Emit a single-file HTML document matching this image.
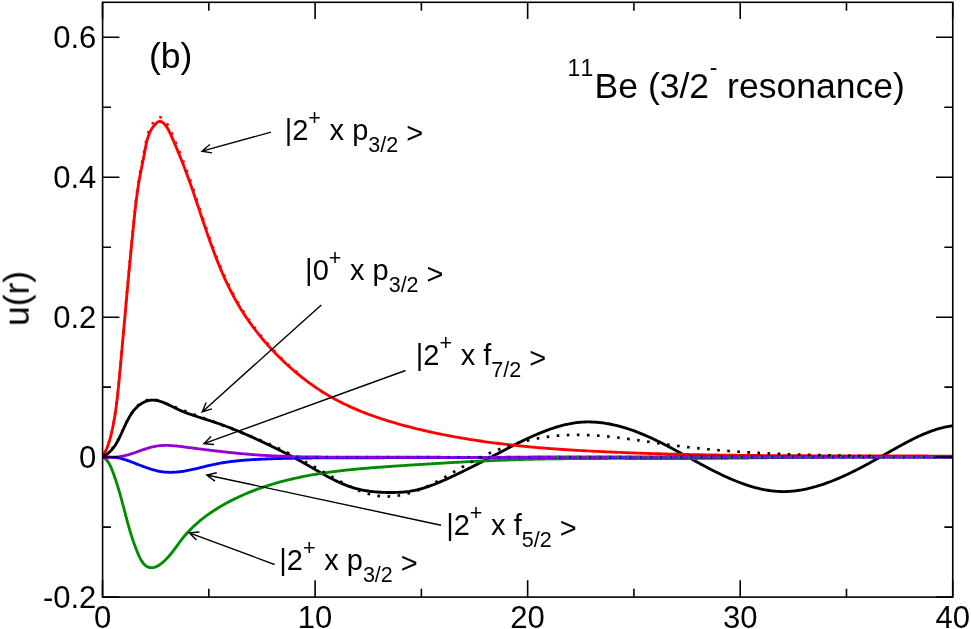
<!DOCTYPE html>
<html><head><meta charset="utf-8"><style>
html,body{margin:0;padding:0;background:#fff;}
svg{display:block;font-family:"Liberation Sans",sans-serif;}
</style></head><body>
<svg width="971" height="629" viewBox="0 0 971 629">
<rect width="971" height="629" fill="#fff"/>
<defs><clipPath id="c"><rect x="102.6" y="2.3" width="850.15" height="594.8000000000001"/></clipPath></defs>
<g clip-path="url(#c)" fill="none" stroke-width="2.85" stroke-linejoin="round">
<path d="M103,457.2 H120" stroke="#000" stroke-width="2"/>
<path d="M102.70,457.00 L103.95,456.28 L105.14,455.53 L106.28,454.74 L107.36,453.91 L108.40,453.06 L109.39,452.17 L110.34,451.25 L111.24,450.31 L112.10,449.34 L112.93,448.34 L113.72,447.32 L114.48,446.27 L115.22,445.20 L115.92,444.11 L116.60,442.99 L117.25,441.86 L117.89,440.71 L118.51,439.54 L119.11,438.36 L119.70,437.17 L120.28,435.95 L120.85,434.73 L121.42,433.50 L121.98,432.25 L122.55,431.00 L123.11,429.74 L123.68,428.47 L124.25,427.20 L124.84,425.92 L125.44,424.65 L126.04,423.37 L126.67,422.09 L127.31,420.82 L127.97,419.56 L128.65,418.31 L129.35,417.07 L130.07,415.85 L130.82,414.66 L131.59,413.49 L132.40,412.35 L133.23,411.23 L134.09,410.16 L134.98,409.12 L135.91,408.12 L136.87,407.16 L137.86,406.25 L138.88,405.39 L139.93,404.58 L141.01,403.83 L142.11,403.14 L143.24,402.51 L144.39,401.94 L145.55,401.45 L146.73,401.03 L147.92,400.68 L149.12,400.41 L150.32,400.22 L151.53,400.11 L152.75,400.08 L153.96,400.13 L155.18,400.25 L156.40,400.44 L157.62,400.69 L158.85,400.99 L160.08,401.34 L161.31,401.74 L162.54,402.18 L163.78,402.66 L165.02,403.17 L166.26,403.71 L167.50,404.27 L168.75,404.85 L169.99,405.44 L171.24,406.05 L172.49,406.66 L173.75,407.27 L175.00,407.89 L176.26,408.50 L177.52,409.10 L178.78,409.69 L180.04,410.27 L181.30,410.82 L182.56,411.36 L183.83,411.88 L185.10,412.39 L186.37,412.88 L187.64,413.36 L188.91,413.82 L190.18,414.28 L191.45,414.72 L192.72,415.16 L194.00,415.59 L195.27,416.01 L196.55,416.42 L197.83,416.83 L199.10,417.24 L200.38,417.65 L201.66,418.05 L202.94,418.46 L204.22,418.86 L205.49,419.27 L206.77,419.68 L208.05,420.09 L209.33,420.50 L210.61,420.92 L211.89,421.34 L213.17,421.76 L214.45,422.19 L215.73,422.62 L217.00,423.06 L218.28,423.50 L219.56,423.94 L220.84,424.39 L222.11,424.84 L223.39,425.31 L224.66,425.77 L225.94,426.24 L227.21,426.72 L228.48,427.21 L229.75,427.70 L231.02,428.19 L232.29,428.69 L233.56,429.20 L234.82,429.71 L236.09,430.22 L237.35,430.74 L238.61,431.27 L239.87,431.79 L241.13,432.32 L242.39,432.86 L243.65,433.40 L244.90,433.94 L246.15,434.49 L247.40,435.04 L248.65,435.59 L249.90,436.14 L251.14,436.70 L252.38,437.26 L253.62,437.82 L254.86,438.39 L256.09,438.95 L257.32,439.52 L258.55,440.09 L259.78,440.66 L261.00,441.23 L262.23,441.81 L263.44,442.38 L264.66,442.96 L265.87,443.53 L267.08,444.11 L268.29,444.68 L269.50,445.26 L270.70,445.84 L271.90,446.42 L273.09,447.00 L274.29,447.58 L275.48,448.16 L276.67,448.75 L277.86,449.33 L279.04,449.92 L280.23,450.51 L281.41,451.10 L282.59,451.69 L283.77,452.29 L284.95,452.89 L286.13,453.49 L287.30,454.09 L288.48,454.70 L289.65,455.31 L290.82,455.92 L292.00,456.54 L293.17,457.16 L294.34,457.78 L295.51,458.41 L296.68,459.04 L297.85,459.68 L299.02,460.32 L300.19,460.96 L301.36,461.61 L302.53,462.26 L303.71,462.92 L304.88,463.58 L306.05,464.25 L307.22,464.92 L308.40,465.59 L309.57,466.27 L310.75,466.95 L311.92,467.64 L313.10,468.32 L314.28,469.00 L315.46,469.69 L316.64,470.37 L317.83,471.06 L319.01,471.74 L320.20,472.42 L321.39,473.10 L322.58,473.77 L323.78,474.44 L324.97,475.10 L326.17,475.76 L327.37,476.42 L328.58,477.07 L329.78,477.71 L330.99,478.34 L332.21,478.97 L333.42,479.58 L334.64,480.19 L335.86,480.79 L337.09,481.38 L338.32,481.95 L339.55,482.52 L340.78,483.07 L342.02,483.61 L343.27,484.13 L344.52,484.65 L345.77,485.14 L347.02,485.63 L348.29,486.09 L349.55,486.54 L350.82,486.98 L352.10,487.39 L353.37,487.79 L354.66,488.17 L355.95,488.53 L357.24,488.87 L358.54,489.20 L359.84,489.50 L361.15,489.79 L362.46,490.06 L363.78,490.31 L365.09,490.55 L366.41,490.77 L367.74,490.98 L369.07,491.17 L370.40,491.35 L371.73,491.51 L373.07,491.66 L374.40,491.80 L375.74,491.92 L377.08,492.03 L378.43,492.13 L379.77,492.21 L381.12,492.29 L382.46,492.35 L383.81,492.40 L385.16,492.45 L386.51,492.48 L387.85,492.50 L389.20,492.52 L390.55,492.52 L391.90,492.52 L393.25,492.51 L394.59,492.49 L395.94,492.45 L397.28,492.41 L398.62,492.36 L399.96,492.29 L401.30,492.21 L402.64,492.11 L403.98,491.99 L405.31,491.86 L406.64,491.71 L407.97,491.54 L409.29,491.36 L410.61,491.15 L411.93,490.92 L413.25,490.67 L414.56,490.40 L415.87,490.11 L417.17,489.81 L418.48,489.49 L419.78,489.15 L421.07,488.79 L422.37,488.42 L423.66,488.04 L424.95,487.64 L426.23,487.22 L427.52,486.79 L428.80,486.35 L430.08,485.90 L431.35,485.44 L432.62,484.96 L433.89,484.47 L435.16,483.98 L436.42,483.47 L437.69,482.95 L438.95,482.43 L440.20,481.90 L441.46,481.36 L442.71,480.81 L443.96,480.26 L445.21,479.71 L446.45,479.14 L447.69,478.58 L448.94,478.01 L450.17,477.43 L451.41,476.86 L452.64,476.28 L453.88,475.70 L455.11,475.12 L456.33,474.53 L457.56,473.95 L458.78,473.36 L460.00,472.78 L461.22,472.19 L462.44,471.60 L463.66,471.01 L464.87,470.41 L466.08,469.82 L467.29,469.23 L468.50,468.63 L469.71,468.03 L470.91,467.43 L472.12,466.83 L473.32,466.23 L474.52,465.63 L475.72,465.03 L476.91,464.42 L478.11,463.82 L479.30,463.21 L480.49,462.60 L481.68,461.99 L482.87,461.39 L484.06,460.77 L485.25,460.16 L486.43,459.55 L487.62,458.94 L488.80,458.32 L489.98,457.70 L491.16,457.09 L492.34,456.47 L493.52,455.85 L494.69,455.23 L495.87,454.61 L497.04,453.99 L498.22,453.37 L499.39,452.75 L500.57,452.13 L501.75,451.51 L502.92,450.89 L504.10,450.28 L505.27,449.66 L506.45,449.04 L507.63,448.43 L508.81,447.81 L509.99,447.20 L511.17,446.59 L512.36,445.98 L513.54,445.37 L514.73,444.77 L515.92,444.17 L517.11,443.57 L518.31,442.97 L519.51,442.38 L520.71,441.79 L521.91,441.20 L523.12,440.61 L524.33,440.03 L525.54,439.45 L526.76,438.88 L527.98,438.31 L529.21,437.74 L530.43,437.18 L531.67,436.62 L532.91,436.07 L534.15,435.52 L535.40,434.98 L536.65,434.44 L537.91,433.91 L539.17,433.39 L540.44,432.86 L541.72,432.35 L543.00,431.84 L544.28,431.34 L545.57,430.84 L546.87,430.36 L548.17,429.88 L549.47,429.41 L550.78,428.95 L552.09,428.50 L553.41,428.07 L554.72,427.64 L556.05,427.22 L557.37,426.82 L558.70,426.42 L560.03,426.05 L561.37,425.68 L562.70,425.33 L564.04,424.99 L565.38,424.67 L566.72,424.36 L568.07,424.07 L569.41,423.80 L570.76,423.54 L572.11,423.30 L573.46,423.08 L574.81,422.88 L576.16,422.69 L577.51,422.53 L578.86,422.38 L580.21,422.26 L581.56,422.15 L582.91,422.07 L584.25,422.01 L585.60,421.96 L586.95,421.93 L588.29,421.92 L589.64,421.93 L590.98,421.96 L592.32,422.01 L593.66,422.07 L594.99,422.15 L596.33,422.24 L597.66,422.35 L598.98,422.48 L600.31,422.62 L601.63,422.78 L602.95,422.95 L604.26,423.13 L605.57,423.33 L606.88,423.54 L608.18,423.76 L609.48,424.00 L610.78,424.25 L612.07,424.51 L613.36,424.79 L614.65,425.07 L615.93,425.37 L617.21,425.68 L618.49,426.00 L619.76,426.34 L621.04,426.68 L622.30,427.04 L623.57,427.41 L624.83,427.78 L626.09,428.17 L627.35,428.57 L628.60,428.98 L629.85,429.40 L631.10,429.83 L632.35,430.26 L633.59,430.71 L634.84,431.16 L636.08,431.63 L637.31,432.10 L638.55,432.58 L639.78,433.07 L641.01,433.57 L642.24,434.08 L643.47,434.59 L644.70,435.11 L645.92,435.64 L647.14,436.18 L648.36,436.72 L649.58,437.27 L650.80,437.82 L652.02,438.38 L653.23,438.95 L654.44,439.53 L655.66,440.10 L656.87,440.69 L658.08,441.28 L659.29,441.88 L660.49,442.48 L661.70,443.08 L662.91,443.69 L664.11,444.30 L665.31,444.92 L666.52,445.54 L667.72,446.17 L668.92,446.80 L670.12,447.43 L671.33,448.07 L672.53,448.71 L673.73,449.35 L674.93,449.99 L676.13,450.64 L677.33,451.29 L678.53,451.94 L679.73,452.59 L680.93,453.25 L682.13,453.90 L683.33,454.56 L684.53,455.21 L685.73,455.87 L686.93,456.53 L688.13,457.19 L689.33,457.85 L690.53,458.51 L691.74,459.17 L692.94,459.83 L694.14,460.49 L695.35,461.14 L696.55,461.80 L697.76,462.46 L698.97,463.11 L700.18,463.76 L701.38,464.41 L702.60,465.06 L703.81,465.71 L705.02,466.35 L706.24,467.00 L707.45,467.63 L708.67,468.27 L709.89,468.90 L711.11,469.53 L712.33,470.16 L713.55,470.78 L714.78,471.40 L716.01,472.01 L717.23,472.62 L718.46,473.23 L719.70,473.83 L720.93,474.42 L722.17,475.01 L723.40,475.59 L724.64,476.17 L725.88,476.74 L727.13,477.31 L728.37,477.86 L729.62,478.41 L730.86,478.96 L732.11,479.49 L733.36,480.02 L734.61,480.54 L735.87,481.05 L737.12,481.55 L738.38,482.04 L739.64,482.52 L740.90,483.00 L742.16,483.46 L743.43,483.92 L744.69,484.36 L745.96,484.79 L747.23,485.21 L748.50,485.63 L749.77,486.03 L751.05,486.41 L752.32,486.79 L753.60,487.15 L754.88,487.51 L756.16,487.84 L757.44,488.17 L758.72,488.48 L760.01,488.78 L761.29,489.07 L762.58,489.34 L763.87,489.60 L765.16,489.84 L766.46,490.07 L767.75,490.28 L769.05,490.48 L770.35,490.66 L771.64,490.82 L772.95,490.97 L774.25,491.11 L775.55,491.22 L776.86,491.32 L778.17,491.41 L779.47,491.47 L780.79,491.52 L782.10,491.55 L783.41,491.56 L784.73,491.55 L786.04,491.53 L787.36,491.48 L788.68,491.42 L790.00,491.34 L791.32,491.24 L792.65,491.12 L793.97,490.99 L795.29,490.84 L796.62,490.67 L797.94,490.48 L799.27,490.28 L800.59,490.07 L801.92,489.84 L803.24,489.59 L804.57,489.33 L805.89,489.06 L807.22,488.77 L808.54,488.46 L809.86,488.15 L811.18,487.82 L812.50,487.47 L813.82,487.12 L815.14,486.75 L816.46,486.37 L817.77,485.98 L819.08,485.57 L820.39,485.16 L821.70,484.73 L823.01,484.30 L824.31,483.85 L825.61,483.40 L826.91,482.93 L828.20,482.46 L829.50,481.97 L830.79,481.48 L832.07,480.98 L833.36,480.47 L834.63,479.96 L835.91,479.43 L837.18,478.90 L838.45,478.36 L839.71,477.82 L840.97,477.27 L842.23,476.71 L843.48,476.15 L844.73,475.58 L845.97,475.01 L847.20,474.43 L848.44,473.85 L849.66,473.26 L850.89,472.67 L852.11,472.08 L853.32,471.48 L854.53,470.88 L855.74,470.27 L856.94,469.66 L858.15,469.05 L859.34,468.43 L860.54,467.81 L861.73,467.18 L862.92,466.56 L864.10,465.93 L865.28,465.30 L866.46,464.66 L867.64,464.03 L868.82,463.39 L869.99,462.75 L871.16,462.10 L872.33,461.46 L873.50,460.81 L874.67,460.16 L875.84,459.51 L877.00,458.86 L878.16,458.21 L879.33,457.56 L880.49,456.90 L881.65,456.25 L882.81,455.60 L883.97,454.94 L885.13,454.28 L886.29,453.63 L887.45,452.97 L888.62,452.32 L889.78,451.66 L890.94,451.01 L892.10,450.35 L893.27,449.70 L894.43,449.05 L895.60,448.39 L896.77,447.74 L897.93,447.10 L899.10,446.45 L900.28,445.80 L901.45,445.16 L902.63,444.51 L903.81,443.88 L904.99,443.24 L906.17,442.61 L907.35,441.98 L908.54,441.35 L909.73,440.73 L910.93,440.12 L912.13,439.51 L913.33,438.91 L914.53,438.32 L915.74,437.73 L916.95,437.15 L918.17,436.58 L919.39,436.01 L920.61,435.46 L921.84,434.91 L923.07,434.37 L924.31,433.85 L925.55,433.33 L926.80,432.83 L928.05,432.33 L929.31,431.85 L930.57,431.38 L931.84,430.92 L933.11,430.48 L934.39,430.05 L935.68,429.64 L936.97,429.23 L938.27,428.85 L939.57,428.48 L940.89,428.12 L942.20,427.78 L943.53,427.46 L944.86,427.15 L946.20,426.86 L947.54,426.59 L948.90,426.34 L950.26,426.11 L951.62,425.90 L953.00,425.70" stroke="#000"/>
<path d="M102.70,457.01 L103.64,455.25 L104.52,453.48 L105.34,451.72 L106.12,449.95 L106.85,448.18 L107.54,446.40 L108.18,444.63 L108.79,442.85 L109.36,441.07 L109.89,439.28 L110.39,437.50 L110.87,435.71 L111.31,433.92 L111.73,432.12 L112.13,430.33 L112.52,428.53 L112.88,426.73 L113.23,424.93 L113.57,423.12 L113.90,421.31 L114.22,419.50 L114.52,417.69 L114.82,415.88 L115.11,414.06 L115.38,412.24 L115.65,410.42 L115.91,408.60 L116.16,406.78 L116.41,404.95 L116.64,403.13 L116.87,401.30 L117.09,399.46 L117.31,397.63 L117.52,395.80 L117.73,393.96 L117.93,392.12 L118.12,390.28 L118.31,388.44 L118.50,386.60 L118.69,384.75 L118.87,382.91 L119.04,381.06 L119.22,379.21 L119.39,377.36 L119.57,375.51 L119.74,373.66 L119.91,371.80 L120.08,369.95 L120.25,368.09 L120.42,366.23 L120.59,364.38 L120.76,362.52 L120.93,360.66 L121.10,358.79 L121.27,356.93 L121.44,355.07 L121.61,353.20 L121.78,351.33 L121.95,349.47 L122.12,347.60 L122.28,345.73 L122.45,343.86 L122.62,341.99 L122.79,340.12 L122.96,338.25 L123.13,336.38 L123.30,334.51 L123.46,332.63 L123.63,330.76 L123.80,328.88 L123.97,327.01 L124.14,325.13 L124.31,323.26 L124.48,321.38 L124.64,319.51 L124.81,317.63 L124.98,315.75 L125.15,313.88 L125.32,312.00 L125.49,310.12 L125.66,308.24 L125.83,306.37 L126.00,304.49 L126.17,302.61 L126.34,300.73 L126.51,298.86 L126.68,296.98 L126.85,295.10 L127.02,293.22 L127.20,291.35 L127.37,289.47 L127.54,287.59 L127.71,285.71 L127.89,283.84 L128.06,281.96 L128.23,280.09 L128.41,278.21 L128.58,276.34 L128.75,274.46 L128.93,272.59 L129.11,270.72 L129.28,268.84 L129.46,266.97 L129.63,265.10 L129.81,263.23 L129.99,261.36 L130.17,259.49 L130.34,257.62 L130.52,255.76 L130.70,253.89 L130.88,252.02 L131.06,250.16 L131.24,248.29 L131.43,246.43 L131.61,244.57 L131.79,242.71 L131.97,240.85 L132.16,238.99 L132.34,237.13 L132.53,235.28 L132.71,233.42 L132.90,231.57 L133.09,229.71 L133.27,227.86 L133.46,226.01 L133.65,224.17 L133.84,222.32 L134.03,220.47 L134.22,218.63 L134.42,216.79 L134.61,214.94 L134.81,213.10 L135.01,211.26 L135.21,209.42 L135.42,207.59 L135.63,205.75 L135.85,203.91 L136.07,202.07 L136.29,200.24 L136.53,198.40 L136.76,196.56 L137.01,194.73 L137.26,192.89 L137.52,191.05 L137.79,189.21 L138.06,187.37 L138.35,185.53 L138.64,183.69 L138.94,181.85 L139.26,180.01 L139.58,178.17 L139.92,176.32 L140.26,174.48 L140.61,172.63 L140.97,170.78 L141.33,168.93 L141.70,167.08 L142.07,165.22 L142.44,163.36 L142.81,161.50 L143.18,159.64 L143.55,157.78 L143.92,155.91 L144.28,154.04 L144.63,152.17 L144.98,150.29 L145.33,148.42 L145.69,146.55 L146.07,144.69 L146.47,142.84 L146.91,141.01 L147.39,139.20 L147.93,137.42 L148.52,135.66 L149.18,133.94 L149.92,132.25 L150.74,130.61 L151.66,129.01 L152.68,127.46 L153.81,125.96 L155.06,124.52 L156.44,123.15 L157.92,121.98 L159.47,121.34 L161.01,121.50 L162.51,122.34 L163.90,123.54 L165.15,124.89 L166.29,126.36 L167.31,127.91 L168.25,129.54 L169.13,131.23 L169.95,132.95 L170.75,134.70 L171.53,136.45 L172.30,138.19 L173.07,139.94 L173.83,141.68 L174.58,143.42 L175.33,145.17 L176.07,146.91 L176.80,148.65 L177.53,150.39 L178.25,152.13 L178.97,153.86 L179.67,155.60 L180.38,157.34 L181.07,159.08 L181.76,160.82 L182.45,162.56 L183.13,164.30 L183.80,166.05 L184.47,167.79 L185.13,169.53 L185.79,171.28 L186.44,173.03 L187.09,174.77 L187.73,176.52 L188.37,178.28 L189.01,180.03 L189.64,181.79 L190.26,183.55 L190.89,185.31 L191.50,187.07 L192.12,188.84 L192.73,190.60 L193.34,192.37 L193.95,194.14 L194.55,195.91 L195.15,197.68 L195.76,199.45 L196.35,201.23 L196.95,203.00 L197.55,204.78 L198.14,206.55 L198.74,208.33 L199.33,210.10 L199.93,211.88 L200.52,213.65 L201.11,215.43 L201.71,217.21 L202.30,218.98 L202.90,220.76 L203.50,222.53 L204.10,224.30 L204.70,226.08 L205.30,227.85 L205.91,229.62 L206.51,231.39 L207.12,233.16 L207.74,234.93 L208.35,236.69 L208.97,238.46 L209.60,240.22 L210.22,241.98 L210.85,243.74 L211.49,245.50 L212.13,247.26 L212.77,249.01 L213.42,250.76 L214.08,252.51 L214.74,254.25 L215.41,256.00 L216.08,257.74 L216.76,259.47 L217.44,261.21 L218.14,262.94 L218.84,264.66 L219.54,266.39 L220.26,268.11 L220.98,269.83 L221.71,271.54 L222.45,273.25 L223.19,274.95 L223.95,276.66 L224.71,278.35 L225.48,280.04 L226.27,281.73 L227.06,283.42 L227.86,285.10 L228.67,286.77 L229.50,288.44 L230.33,290.10 L231.17,291.76 L232.03,293.42 L232.89,295.06 L233.77,296.71 L234.66,298.34 L235.56,299.98 L236.48,301.60 L237.40,303.22 L238.34,304.83 L239.29,306.44 L240.26,308.04 L241.24,309.64 L242.23,311.23 L243.24,312.81 L244.25,314.38 L245.28,315.95 L246.33,317.51 L247.38,319.06 L248.45,320.61 L249.53,322.15 L250.62,323.68 L251.73,325.21 L252.85,326.73 L253.97,328.24 L255.11,329.74 L256.26,331.23 L257.42,332.72 L258.60,334.20 L259.78,335.67 L260.97,337.13 L262.18,338.58 L263.40,340.03 L264.62,341.46 L265.86,342.89 L267.10,344.31 L268.36,345.72 L269.62,347.12 L270.90,348.51 L272.19,349.89 L273.48,351.27 L274.78,352.63 L276.09,353.98 L277.42,355.33 L278.75,356.66 L280.08,357.99 L281.43,359.30 L282.79,360.61 L284.15,361.90 L285.52,363.19 L286.90,364.46 L288.29,365.73 L289.68,366.98 L291.09,368.22 L292.50,369.46 L293.91,370.68 L295.34,371.89 L296.77,373.09 L298.21,374.28 L299.65,375.45 L301.10,376.62 L302.56,377.77 L304.03,378.92 L305.50,380.05 L306.99,381.17 L308.47,382.27 L309.97,383.37 L311.48,384.45 L312.99,385.52 L314.51,386.58 L316.04,387.63 L317.57,388.66 L319.12,389.68 L320.67,390.69 L322.23,391.69 L323.80,392.67 L325.37,393.64 L326.96,394.60 L328.55,395.54 L330.16,396.47 L331.77,397.39 L333.39,398.29 L335.01,399.18 L336.65,400.06 L338.29,400.93 L339.94,401.78 L341.60,402.62 L343.27,403.44 L344.94,404.26 L346.63,405.06 L348.31,405.85 L350.01,406.63 L351.71,407.40 L353.42,408.15 L355.13,408.90 L356.85,409.63 L358.58,410.35 L360.31,411.06 L362.05,411.76 L363.79,412.45 L365.54,413.13 L367.30,413.80 L369.05,414.46 L370.82,415.11 L372.59,415.75 L374.36,416.38 L376.14,417.00 L377.92,417.61 L379.70,418.21 L381.49,418.80 L383.28,419.39 L385.08,419.96 L386.88,420.53 L388.68,421.09 L390.48,421.64 L392.29,422.18 L394.10,422.72 L395.92,423.24 L397.73,423.76 L399.55,424.28 L401.37,424.78 L403.19,425.28 L405.01,425.77 L406.83,426.25 L408.66,426.73 L410.48,427.20 L412.31,427.67 L414.14,428.12 L415.97,428.58 L417.80,429.02 L419.63,429.46 L421.46,429.90 L423.29,430.33 L425.12,430.75 L426.95,431.17 L428.78,431.58 L430.61,431.99 L432.45,432.39 L434.28,432.78 L436.11,433.17 L437.95,433.56 L439.78,433.94 L441.62,434.31 L443.46,434.68 L445.29,435.04 L447.13,435.40 L448.97,435.75 L450.81,436.10 L452.64,436.44 L454.48,436.78 L456.32,437.11 L458.16,437.44 L460.00,437.76 L461.85,438.08 L463.69,438.40 L465.53,438.70 L467.37,439.01 L469.21,439.31 L471.06,439.60 L472.90,439.89 L474.75,440.18 L476.59,440.46 L478.44,440.74 L480.28,441.01 L482.13,441.28 L483.97,441.54 L485.82,441.80 L487.67,442.06 L489.52,442.31 L491.36,442.56 L493.21,442.80 L495.06,443.04 L496.91,443.27 L498.76,443.51 L500.61,443.73 L502.46,443.96 L504.31,444.18 L506.16,444.39 L508.02,444.61 L509.87,444.82 L511.72,445.02 L513.57,445.22 L515.43,445.42 L517.28,445.62 L519.14,445.81 L520.99,446.00 L522.84,446.18 L524.70,446.37 L526.56,446.54 L528.41,446.72 L530.27,446.89 L532.12,447.06 L533.98,447.23 L535.84,447.39 L537.70,447.55 L539.56,447.71 L541.41,447.86 L543.27,448.02 L545.13,448.17 L546.99,448.31 L548.85,448.46 L550.71,448.60 L552.57,448.74 L554.43,448.87 L556.29,449.01 L558.15,449.14 L560.02,449.27 L561.88,449.40 L563.74,449.52 L565.60,449.64 L567.47,449.76 L569.33,449.88 L571.19,450.00 L573.06,450.11 L574.92,450.22 L576.78,450.33 L578.65,450.44 L580.51,450.55 L582.38,450.65 L584.25,450.75 L586.11,450.86 L587.98,450.95 L589.84,451.05 L591.71,451.15 L593.58,451.24 L595.44,451.34 L597.31,451.43 L599.18,451.52 L601.05,451.61 L602.91,451.69 L604.78,451.78 L606.65,451.87 L608.52,451.95 L610.39,452.03 L612.26,452.11 L614.13,452.20 L616.00,452.27 L617.87,452.35 L619.74,452.43 L621.61,452.50 L623.48,452.58 L625.35,452.65 L627.22,452.73 L629.09,452.80 L630.96,452.87 L632.83,452.94 L634.70,453.00 L636.57,453.07 L638.45,453.14 L640.32,453.20 L642.19,453.26 L644.06,453.33 L645.94,453.39 L647.81,453.45 L649.68,453.51 L651.55,453.57 L653.43,453.62 L655.30,453.68 L657.17,453.74 L659.05,453.79 L660.92,453.84 L662.80,453.90 L664.67,453.95 L666.54,454.00 L668.42,454.05 L670.29,454.10 L672.17,454.14 L674.04,454.19 L675.92,454.24 L677.79,454.28 L679.67,454.33 L681.54,454.37 L683.42,454.41 L685.29,454.45 L687.17,454.50 L689.04,454.54 L690.92,454.57 L692.80,454.61 L694.67,454.65 L696.55,454.69 L698.42,454.72 L700.30,454.76 L702.18,454.79 L704.05,454.83 L705.93,454.86 L707.80,454.89 L709.68,454.92 L711.56,454.95 L713.43,454.98 L715.31,455.01 L717.19,455.04 L719.06,455.07 L720.94,455.10 L722.82,455.12 L724.69,455.15 L726.57,455.18 L728.45,455.20 L730.33,455.23 L732.20,455.25 L734.08,455.27 L735.96,455.29 L737.83,455.32 L739.71,455.34 L741.59,455.36 L743.46,455.38 L745.34,455.40 L747.22,455.42 L749.10,455.43 L750.97,455.45 L752.85,455.47 L754.73,455.49 L756.60,455.50 L758.48,455.52 L760.36,455.53 L762.23,455.55 L764.11,455.56 L765.99,455.58 L767.87,455.59 L769.74,455.60 L771.62,455.61 L773.50,455.63 L775.37,455.64 L777.25,455.65 L779.13,455.66 L781.00,455.67 L782.88,455.68 L784.76,455.69 L786.63,455.70 L788.51,455.71 L790.38,455.72 L792.26,455.73 L794.14,455.73 L796.01,455.74 L797.89,455.75 L799.76,455.76 L801.64,455.76 L803.52,455.77 L805.39,455.78 L807.27,455.78 L809.14,455.79 L811.02,455.79 L812.89,455.80 L814.77,455.80 L816.64,455.81 L818.52,455.81 L820.39,455.82 L822.27,455.82 L824.14,455.83 L826.02,455.83 L827.89,455.83 L829.76,455.84 L831.64,455.84 L833.51,455.84 L835.39,455.85 L837.26,455.85 L839.13,455.85 L841.01,455.86 L842.88,455.86 L844.75,455.86 L846.62,455.86 L848.50,455.87 L850.37,455.87 L852.24,455.87 L854.11,455.87 L855.98,455.88 L857.86,455.88 L859.73,455.88 L861.60,455.88 L863.47,455.89 L865.34,455.89 L867.21,455.89 L869.08,455.89 L870.95,455.90 L872.82,455.90 L874.69,455.90 L876.56,455.91 L878.43,455.91 L880.30,455.91 L882.17,455.91 L884.04,455.92 L885.91,455.92 L887.78,455.92 L889.64,455.93 L891.51,455.93 L893.38,455.94 L895.25,455.94 L897.11,455.94 L898.98,455.95 L900.85,455.95 L902.71,455.96 L904.58,455.96 L906.45,455.97 L908.31,455.97 L910.18,455.98 L912.04,455.99 L913.91,455.99 L915.77,456.00 L917.64,456.01 L919.50,456.01 L921.36,456.02 L923.23,456.03 L925.09,456.04 L926.95,456.04 L928.82,456.05 L930.68,456.06 L932.54,456.07 L934.40,456.08 L936.26,456.09 L938.12,456.10 L939.98,456.11 L941.84,456.12 L943.70,456.14 L945.56,456.15 L947.42,456.16 L949.28,456.17 L951.14,456.19 L953.00,456.20" stroke="#f00"/>
<path d="M102.70,457.00 L103.86,457.68 L104.92,458.45 L105.89,459.30 L106.78,460.24 L107.60,461.25 L108.36,462.32 L109.06,463.44 L109.71,464.61 L110.31,465.83 L110.88,467.07 L111.42,468.34 L111.93,469.63 L112.44,470.93 L112.93,472.23 L113.42,473.53 L113.89,474.84 L114.36,476.15 L114.82,477.47 L115.27,478.78 L115.71,480.10 L116.15,481.43 L116.58,482.75 L117.00,484.08 L117.42,485.40 L117.83,486.73 L118.24,488.06 L118.63,489.39 L119.03,490.72 L119.42,492.05 L119.80,493.39 L120.18,494.72 L120.55,496.05 L120.92,497.38 L121.29,498.71 L121.65,500.04 L122.01,501.36 L122.37,502.69 L122.72,504.01 L123.07,505.34 L123.42,506.66 L123.77,507.97 L124.11,509.29 L124.46,510.60 L124.80,511.91 L125.14,513.21 L125.48,514.51 L125.82,515.81 L126.16,517.11 L126.51,518.40 L126.85,519.70 L127.20,520.99 L127.55,522.28 L127.90,523.57 L128.26,524.86 L128.62,526.15 L128.98,527.44 L129.35,528.73 L129.73,530.02 L130.11,531.31 L130.50,532.61 L130.90,533.91 L131.31,535.21 L131.72,536.51 L132.14,537.82 L132.57,539.13 L133.01,540.44 L133.47,541.76 L133.93,543.09 L134.41,544.42 L134.89,545.75 L135.39,547.10 L135.90,548.44 L136.43,549.80 L136.97,551.16 L137.53,552.53 L138.10,553.90 L138.69,555.26 L139.31,556.60 L139.96,557.92 L140.63,559.20 L141.34,560.43 L142.08,561.62 L142.87,562.74 L143.70,563.78 L144.57,564.72 L145.50,565.56 L146.48,566.26 L147.51,566.82 L148.58,567.25 L149.70,567.53 L150.85,567.68 L152.02,567.69 L153.22,567.56 L154.43,567.30 L155.64,566.89 L156.85,566.36 L158.06,565.72 L159.25,564.98 L160.42,564.17 L161.56,563.31 L162.67,562.41 L163.75,561.49 L164.79,560.54 L165.80,559.57 L166.78,558.57 L167.74,557.56 L168.67,556.53 L169.58,555.48 L170.47,554.42 L171.34,553.34 L172.20,552.26 L173.05,551.16 L173.88,550.06 L174.70,548.95 L175.52,547.83 L176.33,546.72 L177.15,545.60 L177.96,544.48 L178.77,543.37 L179.59,542.26 L180.41,541.16 L181.24,540.07 L182.09,538.98 L182.94,537.91 L183.81,536.84 L184.70,535.79 L185.59,534.75 L186.50,533.73 L187.42,532.71 L188.35,531.70 L189.29,530.71 L190.24,529.72 L191.21,528.75 L192.19,527.79 L193.17,526.84 L194.17,525.90 L195.18,524.96 L196.20,524.05 L197.23,523.14 L198.27,522.24 L199.31,521.35 L200.37,520.47 L201.44,519.60 L202.51,518.74 L203.60,517.89 L204.69,517.06 L205.79,516.23 L206.90,515.41 L208.02,514.60 L209.14,513.80 L210.28,513.01 L211.42,512.23 L212.56,511.46 L213.72,510.70 L214.88,509.95 L216.04,509.21 L217.21,508.47 L218.39,507.75 L219.58,507.03 L220.77,506.33 L221.96,505.63 L223.16,504.94 L224.37,504.26 L225.57,503.59 L226.79,502.93 L228.01,502.27 L229.23,501.63 L230.46,500.99 L231.68,500.36 L232.92,499.74 L234.15,499.13 L235.39,498.52 L236.64,497.93 L237.88,497.34 L239.13,496.76 L240.38,496.19 L241.63,495.62 L242.88,495.06 L244.14,494.52 L245.39,493.97 L246.65,493.44 L247.91,492.91 L249.18,492.39 L250.44,491.88 L251.71,491.38 L252.98,490.88 L254.25,490.39 L255.53,489.91 L256.80,489.43 L258.08,488.96 L259.36,488.50 L260.64,488.04 L261.92,487.59 L263.21,487.15 L264.50,486.72 L265.79,486.29 L267.08,485.86 L268.37,485.45 L269.66,485.04 L270.96,484.64 L272.26,484.24 L273.56,483.85 L274.86,483.46 L276.16,483.08 L277.46,482.71 L278.77,482.35 L280.08,481.98 L281.39,481.63 L282.70,481.28 L284.01,480.94 L285.32,480.60 L286.64,480.27 L287.96,479.94 L289.27,479.62 L290.59,479.30 L291.92,478.99 L293.24,478.69 L294.56,478.39 L295.89,478.09 L297.21,477.80 L298.54,477.52 L299.87,477.24 L301.20,476.96 L302.54,476.69 L303.87,476.42 L305.20,476.16 L306.54,475.91 L307.88,475.66 L309.21,475.41 L310.55,475.16 L311.89,474.93 L313.24,474.69 L314.58,474.46 L315.92,474.24 L317.27,474.01 L318.61,473.80 L319.96,473.58 L321.31,473.37 L322.66,473.17 L324.01,472.96 L325.36,472.77 L326.71,472.57 L328.06,472.38 L329.42,472.19 L330.77,472.01 L332.13,471.83 L333.49,471.65 L334.84,471.48 L336.20,471.30 L337.56,471.14 L338.92,470.97 L340.28,470.81 L341.64,470.65 L343.00,470.50 L344.37,470.34 L345.73,470.19 L347.09,470.04 L348.46,469.90 L349.82,469.76 L351.19,469.62 L352.56,469.48 L353.92,469.35 L355.29,469.21 L356.66,469.08 L358.03,468.95 L359.40,468.83 L360.77,468.71 L362.14,468.58 L363.51,468.46 L364.88,468.35 L366.25,468.23 L367.62,468.12 L368.99,468.00 L370.37,467.89 L371.74,467.78 L373.11,467.67 L374.48,467.57 L375.86,467.46 L377.23,467.36 L378.61,467.26 L379.98,467.15 L381.36,467.05 L382.73,466.96 L384.10,466.86 L385.48,466.76 L386.85,466.66 L388.23,466.57 L389.61,466.47 L390.98,466.38 L392.36,466.29 L393.73,466.19 L395.11,466.10 L396.48,466.01 L397.86,465.92 L399.23,465.83 L400.61,465.73 L401.98,465.64 L403.36,465.55 L404.73,465.46 L406.11,465.37 L407.48,465.28 L408.86,465.19 L410.23,465.10 L411.61,465.01 L412.98,464.93 L414.36,464.84 L415.73,464.75 L417.11,464.66 L418.48,464.57 L419.86,464.49 L421.23,464.40 L422.60,464.31 L423.98,464.23 L425.35,464.14 L426.73,464.06 L428.10,463.97 L429.47,463.89 L430.85,463.80 L432.22,463.72 L433.59,463.63 L434.97,463.55 L436.34,463.47 L437.71,463.39 L439.09,463.30 L440.46,463.22 L441.83,463.14 L443.21,463.06 L444.58,462.98 L445.95,462.90 L447.33,462.82 L448.70,462.75 L450.07,462.67 L451.44,462.59 L452.82,462.51 L454.19,462.44 L455.56,462.36 L456.93,462.29 L458.31,462.21 L459.68,462.14 L461.05,462.06 L462.42,461.99 L463.80,461.92 L465.17,461.85 L466.54,461.78 L467.91,461.70 L469.28,461.63 L470.66,461.57 L472.03,461.50 L473.40,461.43 L474.77,461.36 L476.14,461.29 L477.51,461.23 L478.89,461.16 L480.26,461.10 L481.63,461.03 L483.00,460.97 L484.37,460.91 L485.74,460.85 L487.11,460.79 L488.49,460.73 L489.86,460.67 L491.23,460.61 L492.60,460.55 L493.97,460.49 L495.34,460.44 L496.71,460.38 L498.08,460.33 L499.45,460.27 L500.82,460.22 L502.20,460.17 L503.57,460.11 L504.94,460.06 L506.31,460.01 L507.68,459.96 L509.05,459.92 L510.42,459.87 L511.79,459.82 L513.16,459.78 L514.53,459.73 L515.90,459.69 L517.27,459.65 L518.64,459.60 L520.01,459.56 L521.38,459.52 L522.75,459.48 L524.12,459.45 L525.49,459.41 L526.86,459.37 L528.23,459.34 L529.60,459.30 L530.97,459.27 L532.34,459.24 L533.71,459.20 L535.08,459.17 L536.45,459.14 L537.82,459.11 L539.19,459.08 L540.56,459.06 L541.93,459.03 L543.30,459.00 L544.67,458.98 L546.03,458.95 L547.40,458.93 L548.77,458.90 L550.14,458.88 L551.51,458.86 L552.88,458.84 L554.25,458.82 L555.62,458.80 L556.99,458.78 L558.36,458.76 L559.73,458.74 L561.10,458.73 L562.46,458.71 L563.83,458.69 L565.20,458.68 L566.57,458.66 L567.94,458.65 L569.31,458.64 L570.68,458.62 L572.05,458.61 L573.42,458.60 L574.78,458.59 L576.15,458.58 L577.52,458.57 L578.89,458.56 L580.26,458.55 L581.63,458.54 L583.00,458.53 L584.36,458.52 L585.73,458.51 L587.10,458.51 L588.47,458.50 L589.84,458.49 L591.21,458.49 L592.58,458.48 L593.94,458.48 L595.31,458.47 L596.68,458.47 L598.05,458.46 L599.42,458.46 L600.79,458.46 L602.15,458.45 L603.52,458.45 L604.89,458.45 L606.26,458.45 L607.63,458.45 L609.00,458.44 L610.36,458.44 L611.73,458.44 L613.10,458.44 L614.47,458.44 L615.84,458.44 L617.20,458.44 L618.57,458.44 L619.94,458.44 L621.31,458.44 L622.68,458.44 L624.05,458.44 L625.41,458.45 L626.78,458.45 L628.15,458.45 L629.52,458.45 L630.89,458.45 L632.25,458.45 L633.62,458.45 L634.99,458.46 L636.36,458.46 L637.73,458.46 L639.09,458.46 L640.46,458.46 L641.83,458.47 L643.20,458.47 L644.57,458.47 L645.93,458.47 L647.30,458.47 L648.67,458.48 L650.04,458.48 L651.41,458.48 L652.77,458.48 L654.14,458.48 L655.51,458.49 L656.88,458.49 L658.24,458.49 L659.61,458.49 L660.98,458.49 L662.35,458.49 L663.72,458.49 L665.08,458.49 L666.45,458.49 L667.82,458.50 L669.19,458.50 L670.56,458.50 L671.92,458.50 L673.29,458.50 L674.66,458.49 L676.03,458.49 L677.40,458.49 L678.76,458.49 L680.13,458.49 L681.50,458.49 L682.87,458.49 L684.24,458.48 L685.60,458.48 L686.97,458.48 L688.34,458.47 L689.71,458.47 L691.08,458.47 L692.44,458.46 L693.81,458.46 L695.18,458.45 L696.55,458.45 L697.92,458.44 L699.28,458.43 L700.65,458.43 L702.02,458.42 L703.39,458.41 L704.76,458.40 L706.12,458.40 L707.49,458.39 L708.86,458.38 L710.23,458.37 L711.60,458.36 L712.97,458.35 L714.33,458.34 L715.70,458.33 L717.07,458.31 L718.44,458.30 L719.81,458.29 L721.18,458.28 L722.54,458.26 L723.91,458.25 L725.28,458.24 L726.65,458.22 L728.02,458.21 L729.39,458.20 L730.75,458.18 L732.12,458.17 L733.49,458.15 L734.86,458.14 L736.23,458.12 L737.60,458.10 L738.96,458.09 L740.33,458.07 L741.70,458.05 L743.07,458.04 L744.44,458.02 L745.81,458.00 L747.18,457.99 L748.55,457.97 L749.91,457.95 L751.28,457.93 L752.65,457.91 L754.02,457.90 L755.39,457.88 L756.76,457.86 L758.13,457.84 L759.50,457.82 L760.87,457.80 L762.23,457.78 L763.60,457.76 L764.97,457.74 L766.34,457.73 L767.71,457.71 L769.08,457.69 L770.45,457.67 L771.82,457.65 L773.19,457.63 L774.56,457.61 L775.93,457.59 L777.30,457.57 L778.66,457.55 L780.03,457.53 L781.40,457.51 L782.77,457.49 L784.14,457.47 L785.51,457.45 L786.88,457.43 L788.25,457.41 L789.62,457.39 L790.99,457.37 L792.36,457.35 L793.73,457.33 L795.10,457.31 L796.47,457.29 L797.84,457.27 L799.21,457.25 L800.58,457.23 L801.95,457.21 L803.32,457.19 L804.69,457.17 L806.06,457.15 L807.43,457.13 L808.80,457.11 L810.17,457.09 L811.54,457.08 L812.91,457.06 L814.28,457.04 L815.65,457.02 L817.02,457.00 L818.39,456.99 L819.76,456.97 L821.14,456.95 L822.51,456.93 L823.88,456.92 L825.25,456.90 L826.62,456.88 L827.99,456.87 L829.36,456.85 L830.73,456.83 L832.10,456.82 L833.47,456.80 L834.84,456.79 L836.22,456.77 L837.59,456.76 L838.96,456.74 L840.33,456.73 L841.70,456.71 L843.07,456.70 L844.44,456.69 L845.82,456.67 L847.19,456.66 L848.56,456.65 L849.93,456.64 L851.30,456.63 L852.67,456.61 L854.05,456.60 L855.42,456.59 L856.79,456.58 L858.16,456.57 L859.54,456.56 L860.91,456.55 L862.28,456.55 L863.65,456.54 L865.02,456.53 L866.40,456.52 L867.77,456.51 L869.14,456.51 L870.51,456.50 L871.89,456.50 L873.26,456.49 L874.63,456.49 L876.01,456.48 L877.38,456.48 L878.75,456.47 L880.12,456.47 L881.50,456.47 L882.87,456.47 L884.24,456.47 L885.62,456.47 L886.99,456.46 L888.36,456.47 L889.74,456.47 L891.11,456.47 L892.49,456.47 L893.86,456.47 L895.23,456.47 L896.61,456.48 L897.98,456.48 L899.35,456.49 L900.73,456.49 L902.10,456.50 L903.48,456.50 L904.85,456.51 L906.23,456.52 L907.60,456.53 L908.97,456.54 L910.35,456.55 L911.72,456.56 L913.10,456.57 L914.47,456.58 L915.85,456.59 L917.22,456.60 L918.60,456.62 L919.97,456.63 L921.35,456.65 L922.72,456.66 L924.10,456.68 L925.47,456.70 L926.85,456.71 L928.23,456.73 L929.60,456.75 L930.98,456.77 L932.35,456.79 L933.73,456.81 L935.10,456.84 L936.48,456.86 L937.86,456.88 L939.23,456.91 L940.61,456.93 L941.99,456.96 L943.36,456.99 L944.74,457.01 L946.12,457.04 L947.49,457.07 L948.87,457.10 L950.25,457.13 L951.62,457.17 L953.00,457.20" stroke="#008b00"/>
<path d="M102.70,457.00 L103.92,456.99 L105.14,456.99 L106.35,456.99 L107.56,457.01 L108.77,457.03 L109.97,457.07 L111.17,457.13 L112.37,457.20 L113.56,457.30 L114.75,457.41 L115.94,457.55 L117.13,457.72 L118.31,457.92 L119.49,458.14 L120.67,458.40 L121.85,458.69 L123.02,459.01 L124.20,459.36 L125.37,459.74 L126.54,460.13 L127.71,460.54 L128.88,460.96 L130.05,461.40 L131.22,461.84 L132.38,462.28 L133.55,462.74 L134.72,463.19 L135.89,463.65 L137.05,464.10 L138.22,464.56 L139.39,465.01 L140.55,465.46 L141.72,465.90 L142.89,466.34 L144.06,466.78 L145.22,467.20 L146.39,467.62 L147.56,468.03 L148.73,468.42 L149.90,468.80 L151.07,469.17 L152.25,469.52 L153.42,469.86 L154.59,470.18 L155.77,470.48 L156.94,470.77 L158.12,471.03 L159.30,471.26 L160.48,471.48 L161.66,471.67 L162.85,471.84 L164.03,471.98 L165.22,472.09 L166.41,472.18 L167.60,472.25 L168.79,472.29 L169.98,472.31 L171.17,472.31 L172.37,472.29 L173.56,472.25 L174.76,472.19 L175.95,472.12 L177.15,472.02 L178.35,471.91 L179.55,471.77 L180.75,471.63 L181.95,471.47 L183.15,471.29 L184.35,471.10 L185.55,470.90 L186.76,470.68 L187.96,470.46 L189.16,470.22 L190.37,469.97 L191.57,469.71 L192.77,469.45 L193.98,469.17 L195.18,468.89 L196.38,468.60 L197.58,468.31 L198.79,468.02 L199.99,467.72 L201.19,467.41 L202.40,467.11 L203.60,466.81 L204.80,466.51 L206.01,466.21 L207.21,465.92 L208.41,465.62 L209.62,465.34 L210.82,465.06 L212.03,464.79 L213.23,464.53 L214.44,464.27 L215.64,464.03 L216.85,463.79 L218.05,463.56 L219.26,463.34 L220.46,463.13 L221.67,462.92 L222.88,462.73 L224.08,462.53 L225.29,462.35 L226.50,462.17 L227.71,462.00 L228.91,461.84 L230.12,461.68 L231.33,461.53 L232.54,461.38 L233.75,461.24 L234.96,461.10 L236.17,460.97 L237.38,460.85 L238.59,460.73 L239.80,460.61 L241.01,460.50 L242.22,460.39 L243.44,460.29 L244.65,460.19 L245.86,460.10 L247.07,460.01 L248.29,459.92 L249.50,459.84 L250.71,459.76 L251.93,459.68 L253.14,459.61 L254.36,459.54 L255.57,459.47 L256.79,459.40 L258.00,459.34 L259.22,459.28 L260.43,459.22 L261.65,459.17 L262.86,459.11 L264.08,459.06 L265.30,459.01 L266.51,458.96 L267.73,458.91 L268.95,458.86 L270.17,458.82 L271.38,458.77 L272.60,458.73 L273.82,458.69 L275.04,458.65 L276.26,458.61 L277.48,458.57 L278.69,458.54 L279.91,458.50 L281.13,458.47 L282.35,458.44 L283.57,458.41 L284.79,458.38 L286.01,458.35 L287.23,458.32 L288.45,458.29 L289.67,458.27 L290.89,458.25 L292.11,458.22 L293.33,458.20 L294.55,458.18 L295.77,458.16 L296.99,458.14 L298.22,458.12 L299.44,458.10 L300.66,458.08 L301.88,458.07 L303.10,458.05 L304.32,458.04 L305.55,458.02 L306.77,458.01 L307.99,458.00 L309.21,457.99 L310.43,457.97 L311.66,457.96 L312.88,457.95 L314.10,457.94 L315.32,457.94 L316.55,457.93 L317.77,457.92 L318.99,457.91 L320.21,457.90 L321.44,457.90 L322.66,457.89 L323.88,457.89 L325.10,457.88 L326.33,457.87 L327.55,457.87 L328.77,457.86 L330.00,457.86 L331.22,457.86 L332.44,457.85 L333.66,457.85 L334.89,457.84 L336.11,457.84 L337.33,457.84 L338.56,457.83 L339.78,457.83 L341.00,457.82 L342.22,457.82 L343.45,457.82 L344.67,457.81 L345.89,457.81 L347.12,457.81 L348.34,457.80 L349.56,457.80 L350.78,457.80 L352.01,457.79 L353.23,457.79 L354.45,457.78 L355.68,457.78 L356.90,457.78 L358.12,457.77 L359.34,457.77 L360.57,457.77 L361.79,457.76 L363.01,457.76 L364.23,457.75 L365.46,457.75 L366.68,457.75 L367.90,457.74 L369.12,457.74 L370.35,457.74 L371.57,457.73 L372.79,457.73 L374.01,457.73 L375.24,457.72 L376.46,457.72 L377.68,457.71 L378.90,457.71 L380.13,457.71 L381.35,457.70 L382.57,457.70 L383.79,457.70 L385.01,457.69 L386.24,457.69 L387.46,457.69 L388.68,457.68 L389.90,457.68 L391.13,457.68 L392.35,457.67 L393.57,457.67 L394.79,457.66 L396.01,457.66 L397.24,457.66 L398.46,457.65 L399.68,457.65 L400.90,457.65 L402.13,457.64 L403.35,457.64 L404.57,457.64 L405.79,457.63 L407.01,457.63 L408.24,457.63 L409.46,457.62 L410.68,457.62 L411.90,457.61 L413.12,457.61 L414.35,457.61 L415.57,457.60 L416.79,457.60 L418.01,457.60 L419.23,457.59 L420.46,457.59 L421.68,457.59 L422.90,457.58 L424.12,457.58 L425.34,457.58 L426.56,457.57 L427.79,457.57 L429.01,457.57 L430.23,457.56 L431.45,457.56 L432.67,457.56 L433.90,457.55 L435.12,457.55 L436.34,457.54 L437.56,457.54 L438.78,457.54 L440.00,457.53 L441.23,457.53 L442.45,457.53 L443.67,457.52 L444.89,457.52 L446.11,457.52 L447.33,457.51 L448.56,457.51 L449.78,457.51 L451.00,457.50 L452.22,457.50 L453.44,457.50 L454.66,457.49 L455.89,457.49 L457.11,457.49 L458.33,457.48 L459.55,457.48 L460.77,457.48 L461.99,457.47 L463.21,457.47 L464.44,457.47 L465.66,457.46 L466.88,457.46 L468.10,457.46 L469.32,457.45 L470.54,457.45 L471.76,457.45 L472.99,457.44 L474.21,457.44 L475.43,457.44 L476.65,457.43 L477.87,457.43 L479.09,457.43 L480.31,457.42 L481.54,457.42 L482.76,457.42 L483.98,457.41 L485.20,457.41 L486.42,457.41 L487.64,457.40 L488.86,457.40 L490.09,457.40 L491.31,457.40 L492.53,457.39 L493.75,457.39 L494.97,457.39 L496.19,457.38 L497.41,457.38 L498.63,457.38 L499.86,457.37 L501.08,457.37 L502.30,457.37 L503.52,457.36 L504.74,457.36 L505.96,457.36 L507.18,457.35 L508.40,457.35 L509.62,457.35 L510.85,457.35 L512.07,457.34 L513.29,457.34 L514.51,457.34 L515.73,457.33 L516.95,457.33 L518.17,457.33 L519.39,457.32 L520.61,457.32 L521.84,457.32 L523.06,457.32 L524.28,457.31 L525.50,457.31 L526.72,457.31 L527.94,457.30 L529.16,457.30 L530.38,457.30 L531.60,457.29 L532.83,457.29 L534.05,457.29 L535.27,457.29 L536.49,457.28 L537.71,457.28 L538.93,457.28 L540.15,457.27 L541.37,457.27 L542.59,457.27 L543.81,457.27 L545.04,457.26 L546.26,457.26 L547.48,457.26 L548.70,457.26 L549.92,457.25 L551.14,457.25 L552.36,457.25 L553.58,457.24 L554.80,457.24 L556.02,457.24 L557.25,457.24 L558.47,457.23 L559.69,457.23 L560.91,457.23 L562.13,457.23 L563.35,457.22 L564.57,457.22 L565.79,457.22 L567.01,457.21 L568.23,457.21 L569.45,457.21 L570.68,457.21 L571.90,457.20 L573.12,457.20 L574.34,457.20 L575.56,457.20 L576.78,457.19 L578.00,457.19 L579.22,457.19 L580.44,457.19 L581.66,457.18 L582.88,457.18 L584.10,457.18 L585.33,457.18 L586.55,457.17 L587.77,457.17 L588.99,457.17 L590.21,457.17 L591.43,457.16 L592.65,457.16 L593.87,457.16 L595.09,457.16 L596.31,457.15 L597.53,457.15 L598.75,457.15 L599.98,457.15 L601.20,457.15 L602.42,457.14 L603.64,457.14 L604.86,457.14 L606.08,457.14 L607.30,457.13 L608.52,457.13 L609.74,457.13 L610.96,457.13 L612.18,457.13 L613.40,457.12 L614.63,457.12 L615.85,457.12 L617.07,457.12 L618.29,457.11 L619.51,457.11 L620.73,457.11 L621.95,457.11 L623.17,457.11 L624.39,457.10 L625.61,457.10 L626.83,457.10 L628.05,457.10 L629.27,457.10 L630.50,457.09 L631.72,457.09 L632.94,457.09 L634.16,457.09 L635.38,457.09 L636.60,457.08 L637.82,457.08 L639.04,457.08 L640.26,457.08 L641.48,457.08 L642.70,457.07 L643.92,457.07 L645.14,457.07 L646.37,457.07 L647.59,457.07 L648.81,457.07 L650.03,457.06 L651.25,457.06 L652.47,457.06 L653.69,457.06 L654.91,457.06 L656.13,457.06 L657.35,457.05 L658.57,457.05 L659.79,457.05 L661.02,457.05 L662.24,457.05 L663.46,457.05 L664.68,457.04 L665.90,457.04 L667.12,457.04 L668.34,457.04 L669.56,457.04 L670.78,457.04 L672.00,457.03 L673.22,457.03 L674.44,457.03 L675.67,457.03 L676.89,457.03 L678.11,457.03 L679.33,457.03 L680.55,457.02 L681.77,457.02 L682.99,457.02 L684.21,457.02 L685.43,457.02 L686.65,457.02 L687.87,457.02 L689.09,457.01 L690.32,457.01 L691.54,457.01 L692.76,457.01 L693.98,457.01 L695.20,457.01 L696.42,457.01 L697.64,457.01 L698.86,457.00 L700.08,457.00 L701.30,457.00 L702.52,457.00 L703.75,457.00 L704.97,457.00 L706.19,457.00 L707.41,457.00 L708.63,457.00 L709.85,457.00 L711.07,456.99 L712.29,456.99 L713.51,456.99 L714.73,456.99 L715.95,456.99 L717.18,456.99 L718.40,456.99 L719.62,456.99 L720.84,456.99 L722.06,456.99 L723.28,456.98 L724.50,456.98 L725.72,456.98 L726.94,456.98 L728.16,456.98 L729.39,456.98 L730.61,456.98 L731.83,456.98 L733.05,456.98 L734.27,456.98 L735.49,456.98 L736.71,456.98 L737.93,456.98 L739.15,456.98 L740.37,456.98 L741.60,456.97 L742.82,456.97 L744.04,456.97 L745.26,456.97 L746.48,456.97 L747.70,456.97 L748.92,456.97 L750.14,456.97 L751.36,456.97 L752.59,456.97 L753.81,456.97 L755.03,456.97 L756.25,456.97 L757.47,456.97 L758.69,456.97 L759.91,456.97 L761.13,456.97 L762.35,456.97 L763.58,456.97 L764.80,456.97 L766.02,456.97 L767.24,456.97 L768.46,456.97 L769.68,456.97 L770.90,456.97 L772.12,456.97 L773.35,456.97 L774.57,456.97 L775.79,456.97 L777.01,456.97 L778.23,456.97 L779.45,456.97 L780.67,456.97 L781.89,456.97 L783.12,456.97 L784.34,456.97 L785.56,456.97 L786.78,456.97 L788.00,456.97 L789.22,456.97 L790.44,456.97 L791.67,456.97 L792.89,456.97 L794.11,456.97 L795.33,456.97 L796.55,456.97 L797.77,456.97 L798.99,456.97 L800.22,456.97 L801.44,456.97 L802.66,456.97 L803.88,456.97 L805.10,456.97 L806.32,456.97 L807.54,456.97 L808.77,456.97 L809.99,456.97 L811.21,456.97 L812.43,456.98 L813.65,456.98 L814.87,456.98 L816.10,456.98 L817.32,456.98 L818.54,456.98 L819.76,456.98 L820.98,456.98 L822.20,456.98 L823.43,456.98 L824.65,456.98 L825.87,456.98 L827.09,456.98 L828.31,456.98 L829.53,456.99 L830.76,456.99 L831.98,456.99 L833.20,456.99 L834.42,456.99 L835.64,456.99 L836.86,456.99 L838.09,456.99 L839.31,456.99 L840.53,456.99 L841.75,457.00 L842.97,457.00 L844.20,457.00 L845.42,457.00 L846.64,457.00 L847.86,457.00 L849.08,457.00 L850.31,457.00 L851.53,457.01 L852.75,457.01 L853.97,457.01 L855.19,457.01 L856.41,457.01 L857.64,457.01 L858.86,457.01 L860.08,457.02 L861.30,457.02 L862.53,457.02 L863.75,457.02 L864.97,457.02 L866.19,457.02 L867.41,457.02 L868.64,457.03 L869.86,457.03 L871.08,457.03 L872.30,457.03 L873.52,457.03 L874.75,457.04 L875.97,457.04 L877.19,457.04 L878.41,457.04 L879.64,457.04 L880.86,457.04 L882.08,457.05 L883.30,457.05 L884.52,457.05 L885.75,457.05 L886.97,457.05 L888.19,457.06 L889.41,457.06 L890.64,457.06 L891.86,457.06 L893.08,457.06 L894.30,457.07 L895.53,457.07 L896.75,457.07 L897.97,457.07 L899.19,457.08 L900.42,457.08 L901.64,457.08 L902.86,457.08 L904.08,457.08 L905.31,457.09 L906.53,457.09 L907.75,457.09 L908.97,457.09 L910.20,457.10 L911.42,457.10 L912.64,457.10 L913.86,457.10 L915.09,457.11 L916.31,457.11 L917.53,457.11 L918.76,457.11 L919.98,457.12 L921.20,457.12 L922.42,457.12 L923.65,457.13 L924.87,457.13 L926.09,457.13 L927.32,457.13 L928.54,457.14 L929.76,457.14 L930.98,457.14 L932.21,457.15 L933.43,457.15 L934.65,457.15 L935.88,457.15 L937.10,457.16 L938.32,457.16 L939.55,457.16 L940.77,457.17 L941.99,457.17 L943.21,457.17 L944.44,457.18 L945.66,457.18 L946.88,457.18 L948.11,457.19 L949.33,457.19 L950.55,457.19 L951.78,457.20 L953.00,457.20" stroke="#00f"/>
<path d="M102.70,457.00 L103.90,457.11 L105.11,457.21 L106.31,457.28 L107.51,457.33 L108.70,457.36 L109.90,457.37 L111.10,457.35 L112.29,457.32 L113.49,457.26 L114.68,457.18 L115.87,457.08 L117.06,456.96 L118.25,456.82 L119.44,456.65 L120.63,456.47 L121.82,456.26 L123.00,456.03 L124.19,455.78 L125.38,455.51 L126.56,455.21 L127.75,454.90 L128.94,454.56 L130.12,454.20 L131.31,453.83 L132.49,453.45 L133.68,453.05 L134.86,452.64 L136.05,452.22 L137.23,451.80 L138.42,451.38 L139.60,450.95 L140.79,450.53 L141.97,450.11 L143.16,449.69 L144.35,449.28 L145.54,448.89 L146.73,448.50 L147.91,448.13 L149.10,447.78 L150.30,447.45 L151.49,447.13 L152.68,446.85 L153.87,446.58 L155.07,446.35 L156.26,446.14 L157.46,445.96 L158.66,445.81 L159.86,445.69 L161.05,445.59 L162.26,445.51 L163.46,445.46 L164.66,445.43 L165.86,445.42 L167.06,445.42 L168.27,445.45 L169.47,445.49 L170.68,445.55 L171.88,445.62 L173.09,445.71 L174.30,445.81 L175.50,445.92 L176.71,446.04 L177.92,446.17 L179.13,446.30 L180.34,446.45 L181.55,446.60 L182.76,446.75 L183.97,446.91 L185.18,447.07 L186.38,447.23 L187.59,447.39 L188.80,447.55 L190.01,447.71 L191.23,447.87 L192.44,448.02 L193.65,448.18 L194.86,448.34 L196.07,448.50 L197.28,448.65 L198.49,448.81 L199.70,448.96 L200.91,449.11 L202.12,449.27 L203.33,449.42 L204.54,449.57 L205.75,449.72 L206.96,449.87 L208.17,450.02 L209.39,450.17 L210.60,450.31 L211.81,450.46 L213.02,450.60 L214.23,450.75 L215.44,450.89 L216.65,451.03 L217.87,451.17 L219.08,451.31 L220.29,451.45 L221.50,451.58 L222.71,451.72 L223.93,451.85 L225.14,451.99 L226.35,452.12 L227.56,452.25 L228.77,452.38 L229.99,452.50 L231.20,452.63 L232.41,452.75 L233.62,452.88 L234.84,453.00 L236.05,453.12 L237.26,453.23 L238.48,453.35 L239.69,453.47 L240.90,453.58 L242.11,453.69 L243.33,453.80 L244.54,453.91 L245.75,454.02 L246.97,454.12 L248.18,454.22 L249.39,454.32 L250.61,454.42 L251.82,454.52 L253.03,454.61 L254.25,454.71 L255.46,454.80 L256.68,454.89 L257.89,454.97 L259.10,455.06 L260.32,455.14 L261.53,455.22 L262.75,455.30 L263.96,455.38 L265.17,455.45 L266.39,455.52 L267.60,455.59 L268.82,455.66 L270.03,455.73 L271.25,455.79 L272.46,455.85 L273.68,455.91 L274.89,455.97 L276.11,456.03 L277.32,456.08 L278.53,456.13 L279.75,456.18 L280.96,456.23 L282.18,456.27 L283.39,456.32 L284.61,456.36 L285.83,456.40 L287.04,456.44 L288.26,456.48 L289.47,456.52 L290.69,456.55 L291.90,456.59 L293.12,456.62 L294.33,456.65 L295.55,456.68 L296.76,456.71 L297.98,456.73 L299.20,456.76 L300.41,456.78 L301.63,456.81 L302.84,456.83 L304.06,456.85 L305.28,456.87 L306.49,456.89 L307.71,456.91 L308.93,456.92 L310.14,456.94 L311.36,456.95 L312.57,456.97 L313.79,456.98 L315.01,456.99 L316.22,457.00 L317.44,457.01 L318.66,457.02 L319.87,457.03 L321.09,457.04 L322.31,457.05 L323.52,457.06 L324.74,457.07 L325.96,457.07 L327.18,457.08 L328.39,457.08 L329.61,457.09 L330.83,457.09 L332.04,457.10 L333.26,457.10 L334.48,457.11 L335.70,457.11 L336.91,457.12 L338.13,457.12 L339.35,457.12 L340.57,457.13 L341.78,457.13 L343.00,457.13 L344.22,457.14 L345.44,457.14 L346.65,457.14 L347.87,457.15 L349.09,457.15 L350.31,457.15 L351.53,457.16 L352.74,457.16 L353.96,457.16 L355.18,457.17 L356.40,457.17 L357.62,457.17 L358.83,457.18 L360.05,457.18 L361.27,457.18 L362.49,457.19 L363.71,457.19 L364.93,457.19 L366.15,457.19 L367.36,457.20 L368.58,457.20 L369.80,457.20 L371.02,457.20 L372.24,457.21 L373.46,457.21 L374.68,457.21 L375.89,457.21 L377.11,457.22 L378.33,457.22 L379.55,457.22 L380.77,457.22 L381.99,457.23 L383.21,457.23 L384.43,457.23 L385.65,457.23 L386.87,457.24 L388.09,457.24 L389.30,457.24 L390.52,457.24 L391.74,457.24 L392.96,457.25 L394.18,457.25 L395.40,457.25 L396.62,457.25 L397.84,457.25 L399.06,457.25 L400.28,457.26 L401.50,457.26 L402.72,457.26 L403.94,457.26 L405.16,457.26 L406.38,457.26 L407.60,457.27 L408.82,457.27 L410.04,457.27 L411.26,457.27 L412.48,457.27 L413.70,457.27 L414.92,457.27 L416.14,457.28 L417.36,457.28 L418.58,457.28 L419.80,457.28 L421.02,457.28 L422.24,457.28 L423.46,457.28 L424.68,457.28 L425.90,457.28 L427.12,457.29 L428.34,457.29 L429.56,457.29 L430.78,457.29 L432.00,457.29 L433.22,457.29 L434.44,457.29 L435.66,457.29 L436.88,457.29 L438.10,457.29 L439.32,457.29 L440.54,457.29 L441.77,457.30 L442.99,457.30 L444.21,457.30 L445.43,457.30 L446.65,457.30 L447.87,457.30 L449.09,457.30 L450.31,457.30 L451.53,457.30 L452.75,457.30 L453.97,457.30 L455.19,457.30 L456.42,457.30 L457.64,457.30 L458.86,457.30 L460.08,457.30 L461.30,457.30 L462.52,457.30 L463.74,457.30 L464.96,457.30 L466.18,457.30 L467.41,457.30 L468.63,457.30 L469.85,457.30 L471.07,457.30 L472.29,457.30 L473.51,457.30 L474.73,457.30 L475.95,457.30 L477.18,457.30 L478.40,457.30 L479.62,457.30 L480.84,457.30 L482.06,457.30 L483.28,457.30 L484.51,457.30 L485.73,457.30 L486.95,457.30 L488.17,457.30 L489.39,457.30 L490.61,457.30 L491.83,457.30 L493.06,457.30 L494.28,457.30 L495.50,457.30 L496.72,457.30 L497.94,457.30 L499.17,457.30 L500.39,457.30 L501.61,457.30 L502.83,457.30 L504.05,457.30 L505.27,457.29 L506.50,457.29 L507.72,457.29 L508.94,457.29 L510.16,457.29 L511.38,457.29 L512.61,457.29 L513.83,457.29 L515.05,457.29 L516.27,457.29 L517.49,457.29 L518.72,457.29 L519.94,457.29 L521.16,457.28 L522.38,457.28 L523.60,457.28 L524.83,457.28 L526.05,457.28 L527.27,457.28 L528.49,457.28 L529.71,457.28 L530.94,457.28 L532.16,457.28 L533.38,457.28 L534.60,457.27 L535.83,457.27 L537.05,457.27 L538.27,457.27 L539.49,457.27 L540.71,457.27 L541.94,457.27 L543.16,457.27 L544.38,457.27 L545.60,457.26 L546.83,457.26 L548.05,457.26 L549.27,457.26 L550.49,457.26 L551.72,457.26 L552.94,457.26 L554.16,457.26 L555.38,457.26 L556.60,457.25 L557.83,457.25 L559.05,457.25 L560.27,457.25 L561.49,457.25 L562.72,457.25 L563.94,457.25 L565.16,457.24 L566.38,457.24 L567.61,457.24 L568.83,457.24 L570.05,457.24 L571.27,457.24 L572.50,457.24 L573.72,457.23 L574.94,457.23 L576.16,457.23 L577.39,457.23 L578.61,457.23 L579.83,457.23 L581.05,457.23 L582.28,457.22 L583.50,457.22 L584.72,457.22 L585.94,457.22 L587.17,457.22 L588.39,457.22 L589.61,457.22 L590.83,457.21 L592.06,457.21 L593.28,457.21 L594.50,457.21 L595.72,457.21 L596.95,457.21 L598.17,457.20 L599.39,457.20 L600.61,457.20 L601.84,457.20 L603.06,457.20 L604.28,457.20 L605.50,457.20 L606.73,457.19 L607.95,457.19 L609.17,457.19 L610.39,457.19 L611.62,457.19 L612.84,457.19 L614.06,457.18 L615.28,457.18 L616.51,457.18 L617.73,457.18 L618.95,457.18 L620.17,457.18 L621.40,457.17 L622.62,457.17 L623.84,457.17 L625.06,457.17 L626.29,457.17 L627.51,457.17 L628.73,457.16 L629.95,457.16 L631.18,457.16 L632.40,457.16 L633.62,457.16 L634.84,457.16 L636.06,457.15 L637.29,457.15 L638.51,457.15 L639.73,457.15 L640.95,457.15 L642.18,457.14 L643.40,457.14 L644.62,457.14 L645.84,457.14 L647.07,457.14 L648.29,457.14 L649.51,457.13 L650.73,457.13 L651.96,457.13 L653.18,457.13 L654.40,457.13 L655.62,457.13 L656.84,457.12 L658.07,457.12 L659.29,457.12 L660.51,457.12 L661.73,457.12 L662.96,457.12 L664.18,457.11 L665.40,457.11 L666.62,457.11 L667.84,457.11 L669.07,457.11 L670.29,457.11 L671.51,457.10 L672.73,457.10 L673.95,457.10 L675.18,457.10 L676.40,457.10 L677.62,457.10 L678.84,457.09 L680.06,457.09 L681.29,457.09 L682.51,457.09 L683.73,457.09 L684.95,457.09 L686.17,457.09 L687.40,457.08 L688.62,457.08 L689.84,457.08 L691.06,457.08 L692.28,457.08 L693.51,457.08 L694.73,457.07 L695.95,457.07 L697.17,457.07 L698.39,457.07 L699.61,457.07 L700.84,457.07 L702.06,457.07 L703.28,457.06 L704.50,457.06 L705.72,457.06 L706.94,457.06 L708.17,457.06 L709.39,457.06 L710.61,457.06 L711.83,457.05 L713.05,457.05 L714.27,457.05 L715.50,457.05 L716.72,457.05 L717.94,457.05 L719.16,457.05 L720.38,457.04 L721.60,457.04 L722.82,457.04 L724.04,457.04 L725.27,457.04 L726.49,457.04 L727.71,457.04 L728.93,457.04 L730.15,457.03 L731.37,457.03 L732.59,457.03 L733.81,457.03 L735.04,457.03 L736.26,457.03 L737.48,457.03 L738.70,457.03 L739.92,457.02 L741.14,457.02 L742.36,457.02 L743.58,457.02 L744.80,457.02 L746.02,457.02 L747.25,457.02 L748.47,457.02 L749.69,457.02 L750.91,457.02 L752.13,457.01 L753.35,457.01 L754.57,457.01 L755.79,457.01 L757.01,457.01 L758.23,457.01 L759.45,457.01 L760.67,457.01 L761.89,457.01 L763.11,457.01 L764.33,457.01 L765.55,457.00 L766.78,457.00 L768.00,457.00 L769.22,457.00 L770.44,457.00 L771.66,457.00 L772.88,457.00 L774.10,457.00 L775.32,457.00 L776.54,457.00 L777.76,457.00 L778.98,457.00 L780.20,457.00 L781.42,457.00 L782.64,457.00 L783.86,456.99 L785.08,456.99 L786.30,456.99 L787.52,456.99 L788.74,456.99 L789.96,456.99 L791.18,456.99 L792.40,456.99 L793.62,456.99 L794.84,456.99 L796.05,456.99 L797.27,456.99 L798.49,456.99 L799.71,456.99 L800.93,456.99 L802.15,456.99 L803.37,456.99 L804.59,456.99 L805.81,456.99 L807.03,456.99 L808.25,456.99 L809.47,456.99 L810.69,456.99 L811.91,456.99 L813.12,456.99 L814.34,456.99 L815.56,456.99 L816.78,456.99 L818.00,456.99 L819.22,456.99 L820.44,456.99 L821.66,456.99 L822.88,456.99 L824.09,456.99 L825.31,456.99 L826.53,456.99 L827.75,456.99 L828.97,456.99 L830.19,456.99 L831.41,456.99 L832.62,456.99 L833.84,456.99 L835.06,456.99 L836.28,456.99 L837.50,456.99 L838.72,457.00 L839.93,457.00 L841.15,457.00 L842.37,457.00 L843.59,457.00 L844.81,457.00 L846.02,457.00 L847.24,457.00 L848.46,457.00 L849.68,457.00 L850.90,457.00 L852.11,457.00 L853.33,457.00 L854.55,457.01 L855.77,457.01 L856.98,457.01 L858.20,457.01 L859.42,457.01 L860.64,457.01 L861.85,457.01 L863.07,457.01 L864.29,457.01 L865.50,457.02 L866.72,457.02 L867.94,457.02 L869.16,457.02 L870.37,457.02 L871.59,457.02 L872.81,457.02 L874.02,457.02 L875.24,457.03 L876.46,457.03 L877.67,457.03 L878.89,457.03 L880.11,457.03 L881.32,457.03 L882.54,457.04 L883.76,457.04 L884.97,457.04 L886.19,457.04 L887.41,457.04 L888.62,457.05 L889.84,457.05 L891.05,457.05 L892.27,457.05 L893.49,457.05 L894.70,457.06 L895.92,457.06 L897.13,457.06 L898.35,457.06 L899.57,457.06 L900.78,457.07 L902.00,457.07 L903.21,457.07 L904.43,457.07 L905.64,457.08 L906.86,457.08 L908.07,457.08 L909.29,457.08 L910.50,457.09 L911.72,457.09 L912.93,457.09 L914.15,457.09 L915.36,457.10 L916.58,457.10 L917.79,457.10 L919.01,457.10 L920.22,457.11 L921.44,457.11 L922.65,457.11 L923.87,457.12 L925.08,457.12 L926.30,457.12 L927.51,457.13 L928.73,457.13 L929.94,457.13 L931.15,457.13 L932.37,457.14 L933.58,457.14 L934.80,457.14 L936.01,457.15 L937.22,457.15 L938.44,457.15 L939.65,457.16 L940.87,457.16 L942.08,457.17 L943.29,457.17 L944.51,457.17 L945.72,457.18 L946.93,457.18 L948.15,457.18 L949.36,457.19 L950.57,457.19 L951.79,457.20 L953.00,457.20" stroke="#9400d3"/>
<path d="M102.70,456.50 L103.82,455.81 L104.90,455.10 L105.93,454.38 L106.91,453.63 L107.86,452.87 L108.76,452.09 L109.62,451.29 L110.45,450.47 L111.25,449.63 L112.01,448.78 L112.74,447.92 L113.44,447.03 L114.12,446.14 L114.77,445.22 L115.40,444.29 L116.00,443.35 L116.59,442.40 L117.16,441.43 L117.71,440.44 L118.25,439.45 L118.77,438.44 L119.29,437.42 L119.80,436.39 L120.30,435.34 L120.80,434.29 L121.29,433.23 L121.79,432.15 L122.28,431.07 L122.78,429.97 L123.28,428.87 L123.79,427.76 L124.31,426.64 L124.83,425.51 L125.37,424.37 L125.93,423.23 L126.49,422.09 L127.07,420.94 L127.67,419.80 L128.28,418.66 L128.91,417.53 L129.55,416.42 L130.21,415.31 L130.89,414.22 L131.59,413.15 L132.30,412.10 L133.04,411.07 L133.80,410.07 L134.57,409.10 L135.37,408.16 L136.19,407.25 L137.03,406.38 L137.89,405.55 L138.78,404.76 L139.70,404.02 L140.63,403.32 L141.59,402.68 L142.57,402.08 L143.57,401.55 L144.59,401.07 L145.62,400.65 L146.66,400.29 L147.71,400.00 L148.78,399.78 L149.84,399.62 L150.91,399.55 L151.98,399.54 L153.05,399.60 L154.13,399.73 L155.21,399.91 L156.29,400.14 L157.37,400.42 L158.45,400.74 L159.54,401.09 L160.62,401.47 L161.71,401.88 L162.80,402.31 L163.89,402.75 L164.99,403.20 L166.08,403.65 L167.18,404.11 L168.28,404.55 L169.38,405.00 L170.48,405.44 L171.58,405.88 L172.69,406.32 L173.79,406.75 L174.90,407.19 L176.01,407.62 L177.12,408.05 L178.23,408.48 L179.34,408.91 L180.46,409.33 L181.57,409.76 L182.69,410.19 L183.80,410.61 L184.92,411.04 L186.04,411.47 L187.16,411.89 L188.28,412.32 L189.40,412.74 L190.52,413.16 L191.64,413.59 L192.77,414.01 L193.89,414.43 L195.01,414.86 L196.14,415.28 L197.27,415.70 L198.39,416.13 L199.52,416.55 L200.65,416.97 L201.78,417.39 L202.90,417.82 L204.03,418.24 L205.16,418.66 L206.29,419.08 L207.42,419.51 L208.55,419.93 L209.68,420.36 L210.81,420.78 L211.94,421.20 L213.07,421.63 L214.20,422.05 L215.33,422.48 L216.46,422.90 L217.60,423.33 L218.73,423.76 L219.86,424.18 L220.99,424.61 L222.12,425.04 L223.25,425.47 L224.37,425.90 L225.50,426.33 L226.63,426.76 L227.76,427.19 L228.89,427.62 L230.02,428.05 L231.14,428.49 L232.27,428.92 L233.39,429.36 L234.52,429.79 L235.64,430.23 L236.77,430.67 L237.89,431.11 L239.01,431.55 L240.13,431.99 L241.26,432.43 L242.38,432.88 L243.49,433.32 L244.61,433.77 L245.73,434.21 L246.84,434.66 L247.96,435.11 L249.07,435.56 L250.19,436.02 L251.30,436.47 L252.41,436.92 L253.52,437.38 L254.62,437.84 L255.73,438.30 L256.84,438.76 L257.94,439.22 L259.04,439.69 L260.14,440.15 L261.24,440.62 L262.34,441.09 L263.43,441.56 L264.53,442.03 L265.62,442.51 L266.71,442.98 L267.80,443.46 L268.89,443.94 L269.98,444.42 L271.06,444.91 L272.14,445.39 L273.22,445.88 L274.30,446.37 L275.38,446.86 L276.45,447.35 L277.52,447.85 L278.59,448.35 L279.66,448.85 L280.73,449.35 L281.79,449.86 L282.85,450.36 L283.91,450.87 L284.97,451.38 L286.02,451.90 L287.07,452.41 L288.12,452.93 L289.17,453.45 L290.22,453.98 L291.26,454.50 L292.30,455.03 L293.34,455.56 L294.38,456.09 L295.42,456.63 L296.45,457.17 L297.49,457.70 L298.52,458.25 L299.55,458.79 L300.58,459.34 L301.61,459.88 L302.64,460.43 L303.67,460.99 L304.70,461.54 L305.72,462.10 L306.75,462.65 L307.78,463.21 L308.81,463.78 L309.83,464.34 L310.86,464.91 L311.89,465.47 L312.92,466.04 L313.95,466.62 L314.98,467.19 L316.01,467.76 L317.04,468.34 L318.07,468.92 L319.10,469.50 L320.14,470.08 L321.17,470.67 L322.21,471.25 L323.25,471.84 L324.29,472.43 L325.34,473.02 L326.38,473.61 L327.43,474.21 L328.48,474.80 L329.53,475.40 L330.58,476.00 L331.64,476.60 L332.70,477.20 L333.76,477.80 L334.83,478.40 L335.89,479.00 L336.96,479.60 L338.04,480.20 L339.11,480.79 L340.19,481.38 L341.27,481.97 L342.35,482.56 L343.43,483.14 L344.52,483.71 L345.60,484.28 L346.70,484.85 L347.79,485.40 L348.88,485.95 L349.98,486.50 L351.08,487.03 L352.18,487.56 L353.28,488.07 L354.39,488.58 L355.50,489.07 L356.61,489.56 L357.72,490.03 L358.83,490.49 L359.95,490.94 L361.07,491.37 L362.19,491.79 L363.31,492.20 L364.43,492.59 L365.56,492.97 L366.68,493.33 L367.81,493.67 L368.94,494.00 L370.08,494.31 L371.21,494.60 L372.35,494.87 L373.48,495.13 L374.62,495.36 L375.76,495.58 L376.91,495.77 L378.05,495.94 L379.20,496.09 L380.34,496.22 L381.49,496.32 L382.64,496.40 L383.79,496.47 L384.94,496.51 L386.10,496.53 L387.25,496.53 L388.40,496.51 L389.56,496.47 L390.71,496.42 L391.87,496.34 L393.03,496.24 L394.18,496.13 L395.34,496.00 L396.49,495.85 L397.65,495.68 L398.80,495.50 L399.95,495.30 L401.11,495.09 L402.26,494.85 L403.41,494.61 L404.56,494.34 L405.71,494.07 L406.86,493.77 L408.00,493.47 L409.15,493.15 L410.29,492.81 L411.43,492.46 L412.57,492.10 L413.71,491.73 L414.84,491.34 L415.98,490.95 L417.11,490.54 L418.23,490.12 L419.36,489.68 L420.48,489.24 L421.60,488.79 L422.72,488.33 L423.83,487.85 L424.94,487.37 L426.04,486.88 L427.15,486.38 L428.24,485.87 L429.34,485.35 L430.43,484.83 L431.52,484.30 L432.60,483.76 L433.69,483.21 L434.76,482.66 L435.84,482.10 L436.91,481.54 L437.98,480.97 L439.05,480.40 L440.12,479.82 L441.18,479.23 L442.24,478.65 L443.30,478.05 L444.36,477.46 L445.42,476.86 L446.47,476.26 L447.53,475.66 L448.58,475.05 L449.63,474.44 L450.68,473.83 L451.73,473.22 L452.78,472.61 L453.82,472.00 L454.87,471.39 L455.92,470.77 L456.96,470.16 L458.01,469.55 L459.06,468.94 L460.10,468.33 L461.15,467.73 L462.20,467.12 L463.25,466.52 L464.30,465.92 L465.35,465.32 L466.40,464.73 L467.45,464.14 L468.50,463.55 L469.56,462.97 L470.61,462.40 L471.67,461.83 L472.73,461.26 L473.79,460.70 L474.86,460.14 L475.92,459.60 L476.99,459.05 L478.06,458.51 L479.13,457.98 L480.20,457.46 L481.28,456.94 L482.36,456.42 L483.43,455.92 L484.51,455.41 L485.60,454.92 L486.68,454.43 L487.77,453.94 L488.85,453.46 L489.94,452.99 L491.03,452.52 L492.13,452.06 L493.22,451.61 L494.32,451.16 L495.42,450.71 L496.52,450.27 L497.62,449.84 L498.72,449.42 L499.83,449.00 L500.93,448.58 L502.04,448.18 L503.15,447.77 L504.26,447.38 L505.37,446.99 L506.49,446.60 L507.60,446.23 L508.72,445.85 L509.84,445.49 L510.96,445.13 L512.08,444.77 L513.20,444.43 L514.33,444.08 L515.45,443.75 L516.58,443.42 L517.71,443.10 L518.84,442.78 L519.97,442.47 L521.10,442.16 L522.24,441.86 L523.37,441.57 L524.51,441.28 L525.65,441.00 L526.79,440.73 L527.93,440.46 L529.07,440.20 L530.22,439.94 L531.36,439.69 L532.51,439.45 L533.65,439.21 L534.80,438.98 L535.95,438.75 L537.10,438.53 L538.25,438.32 L539.41,438.11 L540.56,437.91 L541.72,437.72 L542.87,437.53 L544.03,437.35 L545.19,437.17 L546.35,437.00 L547.51,436.84 L548.67,436.68 L549.83,436.53 L551.00,436.39 L552.16,436.25 L553.33,436.12 L554.49,436.00 L555.66,435.88 L556.83,435.76 L558.00,435.66 L559.17,435.56 L560.34,435.46 L561.51,435.38 L562.69,435.30 L563.86,435.22 L565.03,435.16 L566.21,435.09 L567.39,435.04 L568.56,434.99 L569.74,434.95 L570.92,434.91 L572.10,434.88 L573.28,434.86 L574.46,434.84 L575.64,434.83 L576.82,434.83 L578.01,434.83 L579.19,434.83 L580.37,434.85 L581.56,434.86 L582.75,434.89 L583.93,434.92 L585.12,434.95 L586.31,434.99 L587.49,435.03 L588.68,435.08 L589.87,435.14 L591.06,435.20 L592.25,435.26 L593.44,435.33 L594.63,435.40 L595.83,435.48 L597.02,435.56 L598.21,435.64 L599.40,435.73 L600.60,435.83 L601.79,435.92 L602.98,436.03 L604.18,436.13 L605.37,436.24 L606.57,436.35 L607.77,436.47 L608.96,436.59 L610.16,436.71 L611.35,436.84 L612.55,436.97 L613.75,437.10 L614.95,437.23 L616.14,437.37 L617.34,437.51 L618.54,437.65 L619.74,437.80 L620.94,437.94 L622.14,438.09 L623.33,438.25 L624.53,438.40 L625.73,438.56 L626.93,438.72 L628.13,438.88 L629.33,439.04 L630.53,439.20 L631.73,439.37 L632.93,439.53 L634.13,439.70 L635.33,439.87 L636.53,440.04 L637.73,440.21 L638.93,440.38 L640.13,440.55 L641.33,440.73 L642.53,440.90 L643.73,441.08 L644.93,441.25 L646.12,441.43 L647.32,441.61 L648.52,441.78 L649.72,441.96 L650.92,442.14 L652.12,442.31 L653.32,442.49 L654.52,442.67 L655.71,442.84 L656.91,443.02 L658.11,443.19 L659.31,443.37 L660.50,443.54 L661.70,443.71 L662.90,443.88 L664.09,444.05 L665.29,444.22 L666.48,444.39 L667.68,444.56 L668.87,444.72 L670.07,444.89 L671.26,445.05 L672.46,445.21 L673.65,445.37 L674.84,445.53 L676.03,445.68 L677.23,445.84 L678.42,445.99 L679.61,446.14 L680.80,446.29 L681.99,446.43 L683.18,446.58 L684.37,446.72 L685.56,446.86 L686.75,447.01 L687.94,447.14 L689.12,447.28 L690.31,447.42 L691.50,447.55 L692.69,447.68 L693.87,447.82 L695.06,447.95 L696.25,448.07 L697.43,448.20 L698.62,448.33 L699.81,448.45 L700.99,448.57 L702.18,448.69 L703.36,448.81 L704.55,448.93 L705.73,449.05 L706.91,449.16 L708.10,449.27 L709.28,449.39 L710.47,449.50 L711.65,449.61 L712.83,449.71 L714.01,449.82 L715.20,449.93 L716.38,450.03 L717.56,450.13 L718.74,450.23 L719.93,450.33 L721.11,450.43 L722.29,450.53 L723.47,450.63 L724.65,450.72 L725.83,450.82 L727.01,450.91 L728.20,451.00 L729.38,451.09 L730.56,451.18 L731.74,451.27 L732.92,451.35 L734.10,451.44 L735.28,451.52 L736.46,451.60 L737.64,451.69 L738.82,451.77 L740.00,451.85 L741.18,451.92 L742.36,452.00 L743.54,452.08 L744.72,452.15 L745.90,452.23 L747.08,452.30 L748.26,452.37 L749.44,452.44 L750.62,452.51 L751.80,452.58 L752.98,452.65 L754.16,452.72 L755.34,452.78 L756.52,452.85 L757.70,452.91 L758.88,452.97 L760.06,453.03 L761.24,453.10 L762.41,453.16 L763.59,453.22 L764.77,453.27 L765.96,453.33 L767.14,453.39 L768.32,453.44 L769.50,453.50 L770.68,453.55 L771.86,453.61 L773.04,453.66 L774.22,453.71 L775.40,453.76 L776.58,453.81 L777.76,453.86 L778.94,453.91 L780.12,453.96 L781.31,454.00 L782.49,454.05 L783.67,454.09 L784.85,454.14 L786.03,454.18 L787.22,454.23 L788.40,454.27 L789.58,454.31 L790.76,454.35 L791.95,454.39 L793.13,454.43 L794.31,454.47 L795.50,454.51 L796.68,454.55 L797.87,454.59 L799.05,454.62 L800.24,454.66 L801.42,454.70 L802.61,454.73 L803.79,454.77 L804.98,454.80 L806.16,454.83 L807.35,454.87 L808.54,454.90 L809.72,454.93 L810.91,454.96 L812.10,455.00 L813.29,455.03 L814.47,455.06 L815.66,455.09 L816.85,455.12 L818.04,455.15 L819.23,455.17 L820.42,455.20 L821.61,455.23 L822.80,455.26 L823.99,455.29 L825.18,455.31 L826.37,455.34 L827.57,455.36 L828.76,455.39 L829.95,455.42 L831.15,455.44 L832.34,455.47 L833.53,455.49 L834.73,455.52 L835.92,455.54 L837.12,455.56 L838.31,455.59 L839.51,455.61 L840.71,455.63 L841.90,455.66 L843.10,455.68 L844.30,455.70 L845.50,455.73 L846.70,455.75 L847.90,455.77 L849.10,455.79 L850.30,455.81 L851.50,455.84 L852.70,455.86 L853.90,455.88 L855.11,455.90 L856.31,455.92 L857.51,455.94 L858.72,455.97 L859.92,455.99 L861.13,456.01 L862.33,456.03 L863.54,456.05 L864.75,456.07 L865.95,456.09 L867.16,456.12 L868.37,456.14 L869.58,456.16 L870.79,456.18 L872.00,456.20" stroke="#000" stroke-width="2.7" stroke-dasharray="2.6 7.49" stroke-dashoffset="8.5"/>
<path d="M102.70,457.00 L103.64,455.22 L104.52,453.44 L105.34,451.65 L106.12,449.86 L106.85,448.07 L107.54,446.28 L108.18,444.48 L108.79,442.68 L109.36,440.88 L109.89,439.07 L110.39,437.26 L110.87,435.45 L111.31,433.64 L111.73,431.82 L112.13,430.01 L112.52,428.19 L112.88,426.36 L113.23,424.54 L113.57,422.71 L113.90,420.88 L114.22,419.05 L114.52,417.22 L114.82,415.38 L115.11,413.55 L115.38,411.71 L115.65,409.86 L115.91,408.02 L116.16,406.17 L116.41,404.33 L116.64,402.48 L116.87,400.63 L117.09,398.77 L117.31,396.92 L117.52,395.06 L117.73,393.20 L117.93,391.34 L118.12,389.48 L118.31,387.62 L118.50,385.75 L118.69,383.89 L118.87,382.02 L119.04,380.15 L119.22,378.28 L119.39,376.41 L119.57,374.53 L119.74,372.66 L119.91,370.78 L120.08,368.90 L120.25,367.02 L120.42,365.14 L120.59,363.26 L120.76,361.38 L120.93,359.50 L121.10,357.61 L121.27,355.73 L121.44,353.84 L121.61,351.95 L121.78,350.06 L121.95,348.18 L122.12,346.29 L122.28,344.39 L122.45,342.50 L122.62,340.61 L122.79,338.72 L122.96,336.82 L123.13,334.93 L123.30,333.03 L123.46,331.14 L123.63,329.24 L123.80,327.35 L123.97,325.45 L124.14,323.55 L124.31,321.65 L124.48,319.75 L124.64,317.86 L124.81,315.96 L124.98,314.06 L125.15,312.16 L125.32,310.26 L125.49,308.36 L125.66,306.46 L125.83,304.56 L126.00,302.66 L126.17,300.76 L126.34,298.86 L126.51,296.96 L126.68,295.06 L126.85,293.16 L127.02,291.26 L127.20,289.36 L127.37,287.46 L127.54,285.56 L127.71,283.66 L127.89,281.76 L128.06,279.86 L128.23,277.96 L128.41,276.07 L128.58,274.17 L128.75,272.27 L128.93,270.38 L129.11,268.48 L129.28,266.58 L129.46,264.69 L129.63,262.80 L129.81,260.90 L129.99,259.01 L130.17,257.12 L130.34,255.23 L130.52,253.34 L130.70,251.45 L130.88,249.56 L131.06,247.67 L131.24,245.79 L131.43,243.90 L131.61,242.02 L131.79,240.14 L131.97,238.25 L132.16,236.37 L132.34,234.49 L132.53,232.61 L132.71,230.74 L132.90,228.86 L133.09,226.99 L133.27,225.11 L133.46,223.24 L133.65,221.37 L133.84,219.50 L134.03,217.63 L134.22,215.77 L134.42,213.90 L134.61,212.04 L134.81,210.17 L135.01,208.31 L135.21,206.45 L135.42,204.59 L135.63,202.73 L135.85,200.87 L136.07,199.01 L136.29,197.15 L136.53,195.29 L136.76,193.44 L137.01,191.58 L137.26,189.72 L137.52,187.86 L137.79,186.00 L138.06,184.14 L138.35,182.28 L138.64,180.41 L138.94,178.55 L139.26,176.69 L139.58,174.82 L139.92,172.95 L140.26,171.08 L140.61,169.21 L140.97,167.34 L141.33,165.47 L141.70,163.59 L142.07,161.72 L142.44,159.84 L142.81,157.96 L143.18,156.07 L143.55,154.19 L143.92,152.30 L144.28,150.40 L144.63,148.51 L144.98,146.61 L145.33,144.71 L145.69,142.82 L146.07,140.94 L146.47,139.07 L146.91,137.22 L147.39,135.38 L147.93,133.58 L148.52,131.80 L149.18,130.06 L149.92,128.35 L150.74,126.69 L151.66,125.07 L152.68,123.50 L153.81,121.99 L155.06,120.53 L156.44,119.14 L157.92,117.96 L159.47,117.31 L161.01,117.48 L162.51,118.32 L163.90,119.54 L165.15,120.91 L166.29,122.39 L167.31,123.96 L168.25,125.61 L169.13,127.32 L169.95,129.06 L170.75,130.83 L171.53,132.60 L172.30,134.37 L173.07,136.13 L173.83,137.90 L174.58,139.66 L175.33,141.42 L176.07,143.18 L176.80,144.95 L177.53,146.71 L178.25,148.47 L178.97,150.23 L179.67,151.99 L180.38,153.75 L181.07,155.51 L181.76,157.27 L182.45,159.03 L183.13,160.79 L183.80,162.55 L184.47,164.32 L185.13,166.08 L185.79,167.85 L186.44,169.62 L187.09,171.39 L187.73,173.16 L188.37,174.93 L189.01,176.71 L189.64,178.49 L190.26,180.27 L190.89,182.05 L191.50,183.83 L192.12,185.62 L192.73,187.41 L193.34,189.19 L193.95,190.98 L194.55,192.78 L195.15,194.57 L195.76,196.36 L196.35,198.16 L196.95,199.95 L197.55,201.75 L198.14,203.54 L198.74,205.34 L199.33,207.14 L199.93,208.93 L200.52,210.73 L201.11,212.53 L201.71,214.33 L202.30,216.12 L202.90,217.92 L203.50,219.72 L204.10,221.51 L204.70,223.30 L205.30,225.10 L205.91,226.89 L206.51,228.68 L207.12,230.47 L207.74,232.26 L208.35,234.05 L208.97,235.84 L209.60,237.62 L210.22,239.40 L210.85,241.18 L211.49,242.96 L212.13,244.74 L212.77,246.51 L213.42,248.28 L214.08,250.05 L214.74,251.82 L215.41,253.58 L216.08,255.34 L216.76,257.10 L217.44,258.86 L218.14,260.61 L218.84,262.35 L219.54,264.10 L220.26,265.84 L220.98,267.58 L221.71,269.31 L222.45,271.04 L223.19,272.77 L223.95,274.49 L224.71,276.21 L225.48,277.92 L226.27,279.63 L227.06,281.33 L227.86,283.03 L228.67,284.72 L229.50,286.41 L230.33,288.10 L231.17,289.78 L232.03,291.45 L232.89,293.12 L233.77,294.78 L234.66,296.44 L235.56,298.09 L236.48,299.73 L237.40,301.37 L238.34,303.01 L239.29,304.63 L240.26,306.25 L241.24,307.87 L242.23,309.47 L243.24,311.07 L244.25,312.67 L245.28,314.26 L246.33,315.84 L247.38,317.41 L248.45,318.97 L249.53,320.53 L250.62,322.08 L251.73,323.63 L252.85,325.16 L253.97,326.69 L255.11,328.21 L256.26,329.72 L257.42,331.22 L258.60,332.72 L259.78,334.21 L260.97,335.69 L262.18,337.16 L263.40,338.62 L264.62,340.07 L265.86,341.52 L267.10,342.95 L268.36,344.38 L269.62,345.80 L270.90,347.21 L272.19,348.61 L273.48,350.00 L274.78,351.38 L276.09,352.75 L277.42,354.11 L278.75,355.46 L280.08,356.80 L281.43,358.13 L282.79,359.45 L284.15,360.76 L285.52,362.06 L286.90,363.35 L288.29,364.63 L289.68,365.90 L291.09,367.16 L292.50,368.40 L293.91,369.64 L295.34,370.87 L296.77,372.08 L298.21,373.28 L299.65,374.47" stroke="#f00" stroke-width="2.6" stroke-dasharray="2.5 7.6" stroke-dashoffset="5.5"/>
<path d="M556.4,457.2 H953" stroke="#008b00" stroke-dasharray="2.5 7.62"/>
<path d="M295.9,457.2 H953" stroke="#00f" stroke-dasharray="1.3 8.82"/>
<path d="M935.3,457.3 H953" stroke="#000" stroke-width="1.3"/>
</g>
<g fill="none" stroke="#000" stroke-width="1.6">
<rect x="102.6" y="2.3" width="850.15" height="594.8000000000001"/>
<path d="M102.55,597.1 v-16.8 M102.55,2.3 v16.8 M208.82,597.1 v-8.4 M208.82,2.3 v8.4 M315.10,597.1 v-16.8 M315.10,2.3 v16.8 M421.38,597.1 v-8.4 M421.38,2.3 v8.4 M527.65,597.1 v-16.8 M527.65,2.3 v16.8 M633.92,597.1 v-8.4 M633.92,2.3 v8.4 M740.20,597.1 v-16.8 M740.20,2.3 v16.8 M846.47,597.1 v-8.4 M846.47,2.3 v8.4 M952.75,597.1 v-16.8 M952.75,2.3 v16.8 M102.6,597.10 h16.8 M952.75,597.10 h-16.8 M102.6,527.12 h8.4 M952.75,527.12 h-8.4 M102.6,457.15 h16.8 M952.75,457.15 h-16.8 M102.6,387.17 h8.4 M952.75,387.17 h-8.4 M102.6,317.20 h16.8 M952.75,317.20 h-16.8 M102.6,247.22 h8.4 M952.75,247.22 h-8.4 M102.6,177.25 h16.8 M952.75,177.25 h-16.8 M102.6,107.27 h8.4 M952.75,107.27 h-8.4 M102.6,37.30 h16.8 M952.75,37.30 h-16.8"/>
</g>
<path d="M271,132.2 L202,151.2 M212.06,152.90 L202,151.2 L209.77,144.59 M321.3,304.9 L202.2,411.9 M211.96,408.93 L202.2,411.9 L206.20,402.52 M405.5,370.5 L203.9,443.6 M214.06,444.50 L203.9,443.6 L211.12,436.40 M441.1,525.2 L206.8,475 M214.94,481.15 L206.8,475 L216.74,472.72 M274.5,564.5 L189.3,532.8 M196.46,540.06 L189.3,532.8 L199.47,531.99" fill="none" stroke="#000" stroke-width="1.4"/>
<g fill="#000" opacity="0.999">
<text x="96.3" y="48.4" text-anchor="end" font-size="31">0.6</text>
<text x="96.3" y="188.3" text-anchor="end" font-size="31">0.4</text>
<text x="96.3" y="328.3" text-anchor="end" font-size="31">0.2</text>
<text x="96.3" y="468.2" text-anchor="end" font-size="31">0</text>
<text x="96.3" y="608.2" text-anchor="end" font-size="31">-0.2</text>
<text x="102.5" y="627.7" text-anchor="middle" font-size="31">0</text>
<text x="315.1" y="627.7" text-anchor="middle" font-size="31">10</text>
<text x="527.6" y="627.7" text-anchor="middle" font-size="31">20</text>
<text x="740.2" y="627.7" text-anchor="middle" font-size="31">30</text>
<text x="952.7" y="627.7" text-anchor="middle" font-size="31">40</text>
<text x="284.7" y="139.9" font-size="29">|2<tspan font-size="21.5" dy="-14.9">+</tspan><tspan dy="14.9" dx="0.6"> x p</tspan><tspan font-size="21.5" dy="12">3/2</tspan><tspan dy="-8.7"> &gt;</tspan></text>
<text x="305.1" y="280.2" font-size="29">|0<tspan font-size="21.5" dy="-14.9">+</tspan><tspan dy="14.9" dx="0.6"> x p</tspan><tspan font-size="21.5" dy="12">3/2</tspan><tspan dy="-8.7"> &gt;</tspan></text>
<text x="415.8" y="364.9" font-size="29">|2<tspan font-size="21.5" dy="-14.9">+</tspan><tspan dy="14.9" dx="0.6"> x f</tspan><tspan font-size="21.5" dy="12">7/2</tspan><tspan dy="-8.7"> &gt;</tspan></text>
<text x="446.2" y="534.5" font-size="29">|2<tspan font-size="21.5" dy="-14.9">+</tspan><tspan dy="14.9" dx="0.6"> x f</tspan><tspan font-size="21.5" dy="12">5/2</tspan><tspan dy="-8.7"> &gt;</tspan></text>
<text x="279.3" y="569.5" font-size="29">|2<tspan font-size="21.5" dy="-14.9">+</tspan><tspan dy="14.9" dx="0.6"> x p</tspan><tspan font-size="21.5" dy="12">3/2</tspan><tspan dy="-8.7"> &gt;</tspan></text>
<text x="149" y="67.5" font-size="35.5">(b)</text>
<text y="97.6" font-size="35.5"><tspan x="567.6" font-size="23" dy="-21.3" style="font-kerning:none">11</tspan><tspan x="594.6" dy="21.3">Be (3/2</tspan><tspan x="709.8" font-size="23" dy="-22.3">-</tspan><tspan x="727.1" dy="22.3">resonance)</tspan></text>
<text transform="translate(28.7,298.5) rotate(-90)" text-anchor="middle" font-size="35.5">u(r)</text>
</g>
</svg>
</body></html>
